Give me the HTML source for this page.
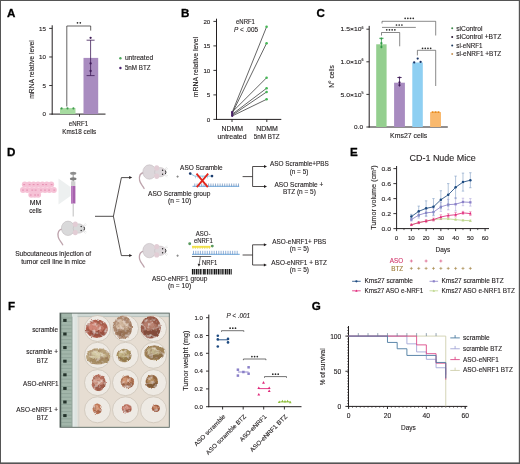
<!DOCTYPE html>
<html><head><meta charset="utf-8"><style>
html,body{margin:0;padding:0;background:#fff;}
svg{display:block;filter:blur(0.25px);}
text{font-family:"Liberation Sans", sans-serif;}
</style></head><body>
<svg width="520" height="464" viewBox="0 0 520 464" fill="#231f20">
<rect width="520" height="464" fill="#fff"/>
<text x="7.00" y="16.60" font-size="11.6" fill="#000" font-weight="bold" stroke="#000" stroke-width="0.3" >A</text>
<line x1="52.20" y1="25.30" x2="52.20" y2="114.60" stroke="#231f20" stroke-width="1.0" />
<line x1="51.70" y1="114.10" x2="105.50" y2="114.10" stroke="#231f20" stroke-width="1.0" />
<line x1="49.20" y1="114.10" x2="52.20" y2="114.10" stroke="#231f20" stroke-width="0.9" />
<text x="46.00" y="116.30" font-size="6.2" fill="#231f20" text-anchor="end" stroke="#231f20" stroke-width="0.12" >0</text>
<line x1="49.20" y1="85.53" x2="52.20" y2="85.53" stroke="#231f20" stroke-width="0.9" />
<text x="46.00" y="87.73" font-size="6.2" fill="#231f20" text-anchor="end" stroke="#231f20" stroke-width="0.12" >5</text>
<line x1="49.20" y1="56.97" x2="52.20" y2="56.97" stroke="#231f20" stroke-width="0.9" />
<text x="46.00" y="59.17" font-size="6.2" fill="#231f20" text-anchor="end" stroke="#231f20" stroke-width="0.12" >10</text>
<line x1="49.20" y1="28.40" x2="52.20" y2="28.40" stroke="#231f20" stroke-width="0.9" />
<text x="46.00" y="30.60" font-size="6.2" fill="#231f20" text-anchor="end" stroke="#231f20" stroke-width="0.12" >15</text>
<line x1="79.50" y1="114.10" x2="79.50" y2="116.70" stroke="#231f20" stroke-width="0.9" />
<text x="0" y="0" font-size="6.8" text-anchor="middle" fill="#231f20" textLength="58.5" lengthAdjust="spacingAndGlyphs" stroke="#231f20" stroke-width="0.12" transform="translate(34.30 69.50) rotate(-90)">mRNA relative level</text>
<rect x="60.00" y="108.10" width="15.50" height="6.00" fill="#a6dba0" />
<rect x="83.50" y="57.90" width="14.70" height="56.20" fill="#a98cc0" />
<circle cx="61.60" cy="108.40" r="1.05" fill="#3f9a4d" />
<circle cx="67.50" cy="108.40" r="1.05" fill="#3f9a4d" />
<circle cx="73.40" cy="108.40" r="1.05" fill="#3f9a4d" />
<line x1="90.60" y1="40.20" x2="90.60" y2="75.60" stroke="#3e1a57" stroke-width="0.8" />
<line x1="86.60" y1="40.20" x2="94.60" y2="40.20" stroke="#3e1a57" stroke-width="0.8" />
<line x1="86.60" y1="75.60" x2="94.60" y2="75.60" stroke="#3e1a57" stroke-width="0.8" />
<circle cx="90.60" cy="37.80" r="1.15" fill="#3e1a57" />
<circle cx="90.60" cy="63.40" r="1.15" fill="#3e1a57" />
<circle cx="90.60" cy="71.00" r="1.15" fill="#3e1a57" />
<path d="M66.8 106.5 V26.0 H90.7 V30.6" fill="none" stroke="#231f20" stroke-width="0.7" />
<circle cx="77.50" cy="22.80" r="0.85" fill="#2a2a2a" />
<circle cx="80.30" cy="22.80" r="0.85" fill="#2a2a2a" />
<text x="78.45" y="125.80" font-size="6.3" fill="#231f20" text-anchor="middle" textLength="19.3" lengthAdjust="spacingAndGlyphs" stroke="#231f20" stroke-width="0.12" >eNRF1</text>
<text x="79.25" y="133.50" font-size="6.3" fill="#231f20" text-anchor="middle" textLength="33.9" lengthAdjust="spacingAndGlyphs" stroke="#231f20" stroke-width="0.12" >Kms18 cells</text>
<circle cx="120.40" cy="58.20" r="1.20" fill="#4aa85a" />
<text x="124.90" y="59.70" font-size="6.3" fill="#231f20" textLength="28.2" lengthAdjust="spacingAndGlyphs" stroke="#231f20" stroke-width="0.12" >untreated</text>
<circle cx="120.40" cy="68.00" r="1.20" fill="#4a2070" />
<text x="124.90" y="69.70" font-size="6.3" fill="#231f20" textLength="25.7" lengthAdjust="spacingAndGlyphs" stroke="#231f20" stroke-width="0.12" >5nM BTZ</text>
<text x="181.00" y="16.70" font-size="11.6" fill="#000" font-weight="bold" stroke="#000" stroke-width="0.3" >B</text>
<line x1="216.50" y1="18.70" x2="216.50" y2="119.90" stroke="#231f20" stroke-width="1.0" />
<line x1="216.00" y1="119.40" x2="281.30" y2="119.40" stroke="#231f20" stroke-width="1.0" />
<line x1="213.40" y1="119.40" x2="216.50" y2="119.40" stroke="#231f20" stroke-width="0.9" />
<text x="210.30" y="121.60" font-size="6.2" fill="#231f20" text-anchor="end" stroke="#231f20" stroke-width="0.12" >0</text>
<line x1="213.40" y1="94.90" x2="216.50" y2="94.90" stroke="#231f20" stroke-width="0.9" />
<text x="210.30" y="97.10" font-size="6.2" fill="#231f20" text-anchor="end" stroke="#231f20" stroke-width="0.12" >5</text>
<line x1="213.40" y1="70.40" x2="216.50" y2="70.40" stroke="#231f20" stroke-width="0.9" />
<text x="210.30" y="72.60" font-size="6.2" fill="#231f20" text-anchor="end" stroke="#231f20" stroke-width="0.12" >10</text>
<line x1="213.40" y1="45.90" x2="216.50" y2="45.90" stroke="#231f20" stroke-width="0.9" />
<text x="210.30" y="48.10" font-size="6.2" fill="#231f20" text-anchor="end" stroke="#231f20" stroke-width="0.12" >15</text>
<line x1="213.40" y1="21.40" x2="216.50" y2="21.40" stroke="#231f20" stroke-width="0.9" />
<text x="210.30" y="23.60" font-size="6.2" fill="#231f20" text-anchor="end" stroke="#231f20" stroke-width="0.12" >20</text>
<line x1="232.00" y1="119.40" x2="232.00" y2="122.00" stroke="#231f20" stroke-width="0.9" />
<line x1="266.80" y1="119.40" x2="266.80" y2="122.00" stroke="#231f20" stroke-width="0.9" />
<text x="0" y="0" font-size="6.8" text-anchor="middle" fill="#231f20" textLength="60.3" lengthAdjust="spacingAndGlyphs" stroke="#231f20" stroke-width="0.12" transform="translate(197.50 67.00) rotate(-90)">mRNA relative level</text>
<line x1="232.20" y1="112.30" x2="266.60" y2="26.79" stroke="#333" stroke-width="0.75" />
<line x1="232.20" y1="113.28" x2="266.60" y2="43.20" stroke="#333" stroke-width="0.75" />
<line x1="232.20" y1="112.05" x2="266.60" y2="77.75" stroke="#333" stroke-width="0.75" />
<line x1="232.20" y1="114.26" x2="266.60" y2="88.28" stroke="#333" stroke-width="0.75" />
<line x1="232.20" y1="115.23" x2="266.60" y2="91.96" stroke="#333" stroke-width="0.75" />
<line x1="232.20" y1="115.97" x2="266.60" y2="99.31" stroke="#333" stroke-width="0.75" />
<circle cx="232.20" cy="112.30" r="1.10" fill="#4a2266" />
<circle cx="232.20" cy="113.28" r="1.10" fill="#4a2266" />
<circle cx="232.20" cy="112.05" r="1.10" fill="#4a2266" />
<circle cx="232.20" cy="114.26" r="1.10" fill="#4a2266" />
<circle cx="232.20" cy="115.23" r="1.10" fill="#4a2266" />
<circle cx="232.20" cy="115.97" r="1.10" fill="#4a2266" />
<circle cx="266.60" cy="26.79" r="1.30" fill="#46b856" />
<circle cx="266.60" cy="43.20" r="1.30" fill="#46b856" />
<circle cx="266.60" cy="77.75" r="1.30" fill="#46b856" />
<circle cx="266.60" cy="88.28" r="1.30" fill="#46b856" />
<circle cx="266.60" cy="91.96" r="1.30" fill="#46b856" />
<circle cx="266.60" cy="99.31" r="1.30" fill="#46b856" />
<text x="245.50" y="24.10" font-size="6.3" fill="#231f20" text-anchor="middle" textLength="18.9" lengthAdjust="spacingAndGlyphs" stroke="#231f20" stroke-width="0.12" >eNRF1</text>
<text x="246" y="31.5" font-size="6.3" fill="#231f20" stroke="#231f20" stroke-width="0.12" text-anchor="middle" textLength="24" lengthAdjust="spacingAndGlyphs"><tspan font-style="italic">P</tspan> &lt; .005</text>
<text x="232.30" y="131.30" font-size="6.3" fill="#231f20" text-anchor="middle" textLength="21.6" lengthAdjust="spacingAndGlyphs" stroke="#231f20" stroke-width="0.12" >NDMM</text>
<text x="232.00" y="138.80" font-size="6.3" fill="#231f20" text-anchor="middle" textLength="28.9" lengthAdjust="spacingAndGlyphs" stroke="#231f20" stroke-width="0.12" >untreated</text>
<text x="267.00" y="131.30" font-size="6.3" fill="#231f20" text-anchor="middle" textLength="21.7" lengthAdjust="spacingAndGlyphs" stroke="#231f20" stroke-width="0.12" >NDMM</text>
<text x="266.70" y="138.80" font-size="6.3" fill="#231f20" text-anchor="middle" textLength="25.9" lengthAdjust="spacingAndGlyphs" stroke="#231f20" stroke-width="0.12" >5nM BTZ</text>
<text x="316.40" y="16.80" font-size="11.6" fill="#000" font-weight="bold" stroke="#000" stroke-width="0.3" >C</text>
<line x1="369.20" y1="25.90" x2="369.20" y2="127.50" stroke="#231f20" stroke-width="1.0" />
<line x1="368.70" y1="127.00" x2="447.80" y2="127.00" stroke="#231f20" stroke-width="1.0" />
<line x1="366.40" y1="127.00" x2="369.20" y2="127.00" stroke="#231f20" stroke-width="0.9" />
<line x1="366.40" y1="94.40" x2="369.20" y2="94.40" stroke="#231f20" stroke-width="0.9" />
<line x1="366.40" y1="61.80" x2="369.20" y2="61.80" stroke="#231f20" stroke-width="0.9" />
<line x1="366.40" y1="29.20" x2="369.20" y2="29.20" stroke="#231f20" stroke-width="0.9" />
<text x="340.60" y="96.50" font-size="6.2" fill="#231f20" textLength="20.9" lengthAdjust="spacingAndGlyphs" stroke="#231f20" stroke-width="0.12" >5.0×10</text>
<text x="361.60" y="93.80" font-size="3.6" fill="#231f20" stroke="#231f20" stroke-width="0.12" >5</text>
<text x="340.60" y="63.90" font-size="6.2" fill="#231f20" textLength="20.9" lengthAdjust="spacingAndGlyphs" stroke="#231f20" stroke-width="0.12" >1.0×10</text>
<text x="361.60" y="61.20" font-size="3.6" fill="#231f20" stroke="#231f20" stroke-width="0.12" >6</text>
<text x="340.60" y="31.30" font-size="6.2" fill="#231f20" textLength="20.9" lengthAdjust="spacingAndGlyphs" stroke="#231f20" stroke-width="0.12" >1.5×10</text>
<text x="361.60" y="28.60" font-size="3.6" fill="#231f20" stroke="#231f20" stroke-width="0.12" >6</text>
<text x="363.00" y="129.10" font-size="6.2" fill="#231f20" text-anchor="end" textLength="9.0" lengthAdjust="spacingAndGlyphs" stroke="#231f20" stroke-width="0.12" >0.0</text>
<text x="0" y="0" font-size="6.3" text-anchor="middle" fill="#231f20" textLength="22.7" lengthAdjust="spacingAndGlyphs" stroke="#231f20" stroke-width="0.12" transform="translate(334.00 76.50) rotate(-90)">N° cells</text>
<rect x="376.20" y="44.30" width="10.40" height="82.70" fill="#94cf8f" />
<rect x="394.10" y="82.70" width="10.80" height="44.30" fill="#a88bc0" />
<rect x="412.30" y="62.50" width="10.50" height="64.50" fill="#8ecff2" />
<rect x="430.10" y="112.10" width="10.90" height="14.90" fill="#f9b96e" />
<line x1="381.40" y1="38.30" x2="381.40" y2="48.30" stroke="#2f9a45" stroke-width="0.8" />
<line x1="379.20" y1="38.30" x2="383.60" y2="38.30" stroke="#2f9a45" stroke-width="0.8" />
<circle cx="381.40" cy="38.60" r="1.10" fill="#2f9a45" />
<circle cx="381.40" cy="43.20" r="1.10" fill="#2f9a45" />
<circle cx="381.40" cy="47.00" r="1.10" fill="#2f9a45" />
<line x1="399.50" y1="77.50" x2="399.50" y2="86.50" stroke="#3e1a57" stroke-width="0.8" />
<line x1="397.30" y1="77.50" x2="401.70" y2="77.50" stroke="#3e1a57" stroke-width="0.8" />
<circle cx="399.50" cy="77.50" r="1.10" fill="#3e1a57" />
<circle cx="399.50" cy="82.40" r="1.10" fill="#3e1a57" />
<circle cx="399.50" cy="85.20" r="1.10" fill="#3e1a57" />
<circle cx="417.70" cy="58.60" r="1.15" fill="#1b3566" />
<circle cx="414.20" cy="62.40" r="1.15" fill="#1b3566" />
<circle cx="420.60" cy="61.90" r="1.15" fill="#1b3566" />
<line x1="431.50" y1="112.10" x2="439.50" y2="112.10" stroke="#e88a1a" stroke-width="0.8" />
<circle cx="432.60" cy="112.10" r="0.85" fill="#e88a1a" />
<circle cx="435.60" cy="112.10" r="0.85" fill="#e88a1a" />
<circle cx="438.60" cy="112.10" r="0.85" fill="#e88a1a" />
<text x="408.70" y="137.50" font-size="7.0" fill="#231f20" text-anchor="middle" textLength="37.2" lengthAdjust="spacingAndGlyphs" stroke="#231f20" stroke-width="0.12" >Kms27 cells</text>
<path d="M382 23.5 V21.3 H435.7 V35.5" fill="none" stroke="#3a3a3a" stroke-width="0.6" />
<line x1="382.00" y1="27.40" x2="415.80" y2="27.40" stroke="#3a3a3a" stroke-width="0.6" />
<path d="M381.5 35.5 V32.5 H399.7 V46.3" fill="none" stroke="#3a3a3a" stroke-width="0.6" />
<path d="M417.4 55.4 V50.3 H435.7 V86" fill="none" stroke="#3a3a3a" stroke-width="0.6" />
<circle cx="405.15" cy="18.30" r="0.85" fill="#2a2a2a" />
<circle cx="407.85" cy="18.30" r="0.85" fill="#2a2a2a" />
<circle cx="410.55" cy="18.30" r="0.85" fill="#2a2a2a" />
<circle cx="413.25" cy="18.30" r="0.85" fill="#2a2a2a" />
<circle cx="396.50" cy="25.00" r="0.85" fill="#2a2a2a" />
<circle cx="399.20" cy="25.00" r="0.85" fill="#2a2a2a" />
<circle cx="401.90" cy="25.00" r="0.85" fill="#2a2a2a" />
<circle cx="386.75" cy="29.80" r="0.85" fill="#2a2a2a" />
<circle cx="389.45" cy="29.80" r="0.85" fill="#2a2a2a" />
<circle cx="392.15" cy="29.80" r="0.85" fill="#2a2a2a" />
<circle cx="394.85" cy="29.80" r="0.85" fill="#2a2a2a" />
<circle cx="422.55" cy="48.30" r="0.85" fill="#2a2a2a" />
<circle cx="425.25" cy="48.30" r="0.85" fill="#2a2a2a" />
<circle cx="427.95" cy="48.30" r="0.85" fill="#2a2a2a" />
<circle cx="430.65" cy="48.30" r="0.85" fill="#2a2a2a" />
<circle cx="452.20" cy="28.30" r="1.00" fill="#3f8a4c" />
<text x="456.30" y="30.70" font-size="6.3" fill="#231f20" textLength="26.2" lengthAdjust="spacingAndGlyphs" stroke="#231f20" stroke-width="0.12" >siControl</text>
<circle cx="452.20" cy="37.00" r="1.00" fill="#2a1a33" />
<text x="456.30" y="39.30" font-size="6.3" fill="#231f20" textLength="45" lengthAdjust="spacingAndGlyphs" stroke="#231f20" stroke-width="0.12" >siControl +BTZ</text>
<circle cx="452.20" cy="45.60" r="1.00" fill="#1e3a5e" />
<text x="456.30" y="47.60" font-size="6.3" fill="#231f20" textLength="26.2" lengthAdjust="spacingAndGlyphs" stroke="#231f20" stroke-width="0.12" >si-eNRF1</text>
<circle cx="452.20" cy="54.10" r="1.00" fill="#c7955a" />
<text x="456.30" y="56.00" font-size="6.3" fill="#231f20" textLength="45" lengthAdjust="spacingAndGlyphs" stroke="#231f20" stroke-width="0.12" >si-eNRF1 +BTZ</text>
<text x="6.90" y="156.00" font-size="11.6" fill="#000" font-weight="bold" stroke="#000" stroke-width="0.3" >D</text>
<circle cx="24.80" cy="184.40" r="3.0" fill="#f6c2d6"/>
<circle cx="29.20" cy="184.40" r="3.0" fill="#f6c2d6"/>
<circle cx="33.60" cy="184.40" r="3.0" fill="#f6c2d6"/>
<circle cx="38.00" cy="184.40" r="3.0" fill="#f6c2d6"/>
<circle cx="42.40" cy="184.40" r="3.0" fill="#f6c2d6"/>
<circle cx="46.80" cy="184.40" r="3.0" fill="#f6c2d6"/>
<circle cx="51.20" cy="184.40" r="3.0" fill="#f6c2d6"/>
<circle cx="23.00" cy="189.90" r="3.0" fill="#f6c2d6"/>
<circle cx="27.40" cy="189.90" r="3.0" fill="#f6c2d6"/>
<circle cx="31.80" cy="189.90" r="3.0" fill="#f6c2d6"/>
<circle cx="36.20" cy="189.90" r="3.0" fill="#f6c2d6"/>
<circle cx="40.60" cy="189.90" r="3.0" fill="#f6c2d6"/>
<circle cx="45.00" cy="189.90" r="3.0" fill="#f6c2d6"/>
<circle cx="49.40" cy="189.90" r="3.0" fill="#f6c2d6"/>
<circle cx="53.80" cy="189.90" r="3.0" fill="#f6c2d6"/>
<circle cx="31.30" cy="194.80" r="3.0" fill="#f6c2d6"/>
<circle cx="34.70" cy="194.80" r="3.0" fill="#f6c2d6"/>
<circle cx="38.10" cy="194.80" r="3.0" fill="#f6c2d6"/>
<path d="M23.30 184.60 h1.8" stroke="#de7fa6" stroke-width="0.8"/>
<path d="M28.70 184.60 h1.8" stroke="#de7fa6" stroke-width="0.8"/>
<path d="M32.70 184.60 h1.8" stroke="#de7fa6" stroke-width="0.8"/>
<path d="M36.80 184.60 h1.8" stroke="#de7fa6" stroke-width="0.8"/>
<path d="M42.00 184.60 h1.8" stroke="#de7fa6" stroke-width="0.8"/>
<path d="M45.30 184.60 h1.8" stroke="#de7fa6" stroke-width="0.8"/>
<path d="M50.70 184.60 h1.8" stroke="#de7fa6" stroke-width="0.8"/>
<path d="M22.10 190.10 h1.8" stroke="#de7fa6" stroke-width="0.8"/>
<path d="M26.20 190.10 h1.8" stroke="#de7fa6" stroke-width="0.8"/>
<path d="M31.40 190.10 h1.8" stroke="#de7fa6" stroke-width="0.8"/>
<path d="M34.70 190.10 h1.8" stroke="#de7fa6" stroke-width="0.8"/>
<path d="M40.10 190.10 h1.8" stroke="#de7fa6" stroke-width="0.8"/>
<path d="M44.10 190.10 h1.8" stroke="#de7fa6" stroke-width="0.8"/>
<path d="M48.20 190.10 h1.8" stroke="#de7fa6" stroke-width="0.8"/>
<path d="M53.40 190.10 h1.8" stroke="#de7fa6" stroke-width="0.8"/>
<path d="M29.80 195.00 h1.8" stroke="#de7fa6" stroke-width="0.8"/>
<path d="M34.20 195.00 h1.8" stroke="#de7fa6" stroke-width="0.8"/>
<path d="M37.20 195.00 h1.8" stroke="#de7fa6" stroke-width="0.8"/>
<text x="35.50" y="204.60" font-size="6.3" fill="#231f20" text-anchor="middle" textLength="11.6" lengthAdjust="spacingAndGlyphs" stroke="#231f20" stroke-width="0.12" >MM</text>
<text x="35.50" y="212.80" font-size="6.3" fill="#231f20" text-anchor="middle" textLength="12.5" lengthAdjust="spacingAndGlyphs" stroke="#231f20" stroke-width="0.12" >cells</text>
<path d="M58.5 178.5 L70.5 187 L70.5 196 L58.5 204.5 Z" fill="#edf0f0"/>
<line x1="73.20" y1="173.50" x2="73.20" y2="186.00" stroke="#a0a0a0" stroke-width="1.1" />
<ellipse cx="73.2" cy="173.2" rx="3.1" ry="1.5" fill="#8e8e8e"/>
<ellipse cx="73.2" cy="178.8" rx="3.3" ry="1.6" fill="#7f7f7f"/>
<rect x="71.0" y="181.3" width="4.4" height="4.7" fill="#cfcfcf"/>
<rect x="71.0" y="186" width="4.4" height="17.5" fill="#a761ad"/>
<rect x="71.5" y="186" width="1.1" height="17.5" fill="#c793cd"/>
<line x1="73.20" y1="203.50" x2="73.20" y2="216.50" stroke="#b8b8b8" stroke-width="0.9" />
<g transform="translate(68,228.3)">
<path d="M-5.6 0.5 C-9.5 1.3 -10.5 4.5 -9.8 8.5 C-9 12 -6.6 13.5 -5.3 16.5" fill="none" stroke="#bea4ad" stroke-width="1.3" stroke-linecap="round"/>
<ellipse cx="0" cy="0" rx="6.6" ry="7.2" fill="#d9d9da" stroke="#b9b0b4" stroke-width="0.5"/>
<ellipse cx="10.8" cy="0.2" rx="5.6" ry="4.7" fill="#d9d9da" stroke="#b9b0b4" stroke-width="0.4"/>
<ellipse cx="7.3" cy="-4.0" rx="2.5" ry="2.7" fill="#e2cdd5"/>
<ellipse cx="7.3" cy="4.3" rx="2.5" ry="2.7" fill="#e2cdd5"/>
<circle cx="13.2" cy="-1.8" r="0.7" fill="#222"/>
<circle cx="13.2" cy="2.2" r="0.7" fill="#222"/>
<path d="M16.0 -1.5 Q17.1 0.2 16.0 2" fill="none" stroke="#222" stroke-width="0.9"/>
<path d="M15 -2.5 L17.5 -5 M15.5 -2 L18.5 -3.5 M15 2.8 L17.5 5.3 M15.5 2.3 L18.5 3.8" stroke="#bbb" stroke-width="0.35"/>
</g>
<text x="53.10" y="255.70" font-size="6.3" fill="#231f20" text-anchor="middle" textLength="75.8" lengthAdjust="spacingAndGlyphs" stroke="#231f20" stroke-width="0.12" >Subcutaneous injection of</text>
<text x="53.50" y="263.70" font-size="6.3" fill="#231f20" text-anchor="middle" textLength="64.6" lengthAdjust="spacingAndGlyphs" stroke="#231f20" stroke-width="0.12" >tumor cell line in mice</text>
<line x1="95.00" y1="216.30" x2="113.50" y2="216.30" stroke="#231f20" stroke-width="0.8" />
<path d="M121.4 177.6 L113.4 216.3 L121.4 255.6" fill="none" stroke="#231f20" stroke-width="0.8" />
<line x1="121.40" y1="177.60" x2="129.80" y2="177.60" stroke="#231f20" stroke-width="0.8" />
<path d="M132.20 177.60 L129.20 176.10 L129.20 179.10 Z" fill="#231f20"/>
<line x1="121.40" y1="255.60" x2="129.80" y2="255.60" stroke="#231f20" stroke-width="0.8" />
<path d="M132.20 255.60 L129.20 254.10 L129.20 257.10 Z" fill="#231f20"/>
<g transform="translate(149.4,172.0)">
<path d="M-5.6 0.5 C-9.5 1.3 -10.5 4.5 -9.8 8.5 C-9 12 -6.6 13.5 -5.3 16.5" fill="none" stroke="#bea4ad" stroke-width="1.3" stroke-linecap="round"/>
<ellipse cx="0" cy="0" rx="6.6" ry="7.2" fill="#ddd7db" stroke="#b9b0b4" stroke-width="0.5"/>
<ellipse cx="10.8" cy="0.2" rx="5.6" ry="4.7" fill="#ddd7db" stroke="#b9b0b4" stroke-width="0.4"/>
<ellipse cx="7.3" cy="-4.0" rx="2.5" ry="2.7" fill="#e2cdd5"/>
<ellipse cx="7.3" cy="4.3" rx="2.5" ry="2.7" fill="#e2cdd5"/>
<circle cx="13.2" cy="-1.8" r="0.7" fill="#222"/>
<circle cx="13.2" cy="2.2" r="0.7" fill="#222"/>
<path d="M16.0 -1.5 Q17.1 0.2 16.0 2" fill="none" stroke="#222" stroke-width="0.9"/>
<path d="M15 -2.5 L17.5 -5 M15.5 -2 L18.5 -3.5 M15 2.8 L17.5 5.3 M15.5 2.3 L18.5 3.8" stroke="#bbb" stroke-width="0.35"/>
</g>
<g transform="translate(149.4,250.6)">
<path d="M-5.6 0.5 C-9.5 1.3 -10.5 4.5 -9.8 8.5 C-9 12 -6.6 13.5 -5.3 16.5" fill="none" stroke="#bea4ad" stroke-width="1.3" stroke-linecap="round"/>
<ellipse cx="0" cy="0" rx="6.6" ry="7.2" fill="#ddd7db" stroke="#b9b0b4" stroke-width="0.5"/>
<ellipse cx="10.8" cy="0.2" rx="5.6" ry="4.7" fill="#ddd7db" stroke="#b9b0b4" stroke-width="0.4"/>
<ellipse cx="7.3" cy="-4.0" rx="2.5" ry="2.7" fill="#e2cdd5"/>
<ellipse cx="7.3" cy="4.3" rx="2.5" ry="2.7" fill="#e2cdd5"/>
<circle cx="13.2" cy="-1.8" r="0.7" fill="#222"/>
<circle cx="13.2" cy="2.2" r="0.7" fill="#222"/>
<path d="M16.0 -1.5 Q17.1 0.2 16.0 2" fill="none" stroke="#222" stroke-width="0.9"/>
<path d="M15 -2.5 L17.5 -5 M15.5 -2 L18.5 -3.5 M15 2.8 L17.5 5.3 M15.5 2.3 L18.5 3.8" stroke="#bbb" stroke-width="0.35"/>
</g>
<line x1="176.30" y1="176.60" x2="178.90" y2="176.60" stroke="#555" stroke-width="0.5" />
<line x1="177.60" y1="175.30" x2="177.60" y2="177.90" stroke="#555" stroke-width="0.5" />
<line x1="176.30" y1="255.70" x2="178.90" y2="255.70" stroke="#555" stroke-width="0.5" />
<line x1="177.60" y1="254.40" x2="177.60" y2="257.00" stroke="#555" stroke-width="0.5" />
<text x="201.40" y="169.50" font-size="6.3" fill="#231f20" text-anchor="middle" textLength="42.6" lengthAdjust="spacingAndGlyphs" stroke="#231f20" stroke-width="0.12" >ASO Scramble</text>
<path d="M190.2 173.6 L194.8 176.1 H208.6 L211.8 176.1" fill="none" stroke="#72b7da" stroke-width="0.8" />
<line x1="195.50" y1="176.10" x2="195.50" y2="178.30" stroke="#72b7da" stroke-width="0.5" />
<line x1="197.90" y1="176.10" x2="197.90" y2="178.30" stroke="#72b7da" stroke-width="0.5" />
<line x1="200.30" y1="176.10" x2="200.30" y2="178.30" stroke="#72b7da" stroke-width="0.5" />
<line x1="202.70" y1="176.10" x2="202.70" y2="178.30" stroke="#72b7da" stroke-width="0.5" />
<line x1="205.10" y1="176.10" x2="205.10" y2="178.30" stroke="#72b7da" stroke-width="0.5" />
<line x1="207.50" y1="176.10" x2="207.50" y2="178.30" stroke="#72b7da" stroke-width="0.5" />
<circle cx="190.20" cy="173.60" r="1.30" fill="#1e3c6e" />
<circle cx="212.00" cy="176.10" r="1.30" fill="#1e3c6e" />
<line x1="192.50" y1="186.30" x2="239.20" y2="186.30" stroke="#5b9bd5" stroke-width="0.9" />
<line x1="194.80" y1="183.50" x2="194.80" y2="186.30" stroke="#2f5f9f" stroke-width="0.5" />
<line x1="197.10" y1="183.50" x2="197.10" y2="186.30" stroke="#2f5f9f" stroke-width="0.5" />
<line x1="199.40" y1="183.50" x2="199.40" y2="186.30" stroke="#2f5f9f" stroke-width="0.5" />
<line x1="201.70" y1="183.50" x2="201.70" y2="186.30" stroke="#2f5f9f" stroke-width="0.5" />
<line x1="204.00" y1="183.50" x2="204.00" y2="186.30" stroke="#2f5f9f" stroke-width="0.5" />
<line x1="206.30" y1="183.50" x2="206.30" y2="186.30" stroke="#2f5f9f" stroke-width="0.5" />
<line x1="208.60" y1="183.50" x2="208.60" y2="186.30" stroke="#2f5f9f" stroke-width="0.5" />
<line x1="210.90" y1="183.50" x2="210.90" y2="186.30" stroke="#2f5f9f" stroke-width="0.5" />
<line x1="213.20" y1="183.50" x2="213.20" y2="186.30" stroke="#2f5f9f" stroke-width="0.5" />
<line x1="215.50" y1="183.50" x2="215.50" y2="186.30" stroke="#2f5f9f" stroke-width="0.5" />
<line x1="217.80" y1="183.50" x2="217.80" y2="186.30" stroke="#2f5f9f" stroke-width="0.5" />
<line x1="220.10" y1="183.50" x2="220.10" y2="186.30" stroke="#2f5f9f" stroke-width="0.5" />
<line x1="222.40" y1="183.50" x2="222.40" y2="186.30" stroke="#2f5f9f" stroke-width="0.5" />
<line x1="224.70" y1="183.50" x2="224.70" y2="186.30" stroke="#2f5f9f" stroke-width="0.5" />
<line x1="227.00" y1="183.50" x2="227.00" y2="186.30" stroke="#2f5f9f" stroke-width="0.5" />
<line x1="229.30" y1="183.50" x2="229.30" y2="186.30" stroke="#2f5f9f" stroke-width="0.5" />
<line x1="231.60" y1="183.50" x2="231.60" y2="186.30" stroke="#2f5f9f" stroke-width="0.5" />
<line x1="233.90" y1="183.50" x2="233.90" y2="186.30" stroke="#2f5f9f" stroke-width="0.5" />
<line x1="236.20" y1="183.50" x2="236.20" y2="186.30" stroke="#2f5f9f" stroke-width="0.5" />
<line x1="238.50" y1="183.50" x2="238.50" y2="186.30" stroke="#2f5f9f" stroke-width="0.5" />
<path d="M196.5 173.6 L207.8 187.2 M208.2 173.6 L196.8 187.2" fill="none" stroke="#e3261c" stroke-width="1.8" />
<text x="179.20" y="195.70" font-size="6.3" fill="#231f20" text-anchor="middle" textLength="62.3" lengthAdjust="spacingAndGlyphs" stroke="#231f20" stroke-width="0.12" >ASO Scramble group</text>
<text x="179.60" y="203.40" font-size="6.3" fill="#231f20" text-anchor="middle" textLength="23.1" lengthAdjust="spacingAndGlyphs" stroke="#231f20" stroke-width="0.12" >(n = 10)</text>
<text x="203.10" y="235.70" font-size="6.3" fill="#231f20" text-anchor="middle" textLength="14.6" lengthAdjust="spacingAndGlyphs" stroke="#231f20" stroke-width="0.12" >ASO-</text>
<text x="203.30" y="243.40" font-size="6.3" fill="#231f20" text-anchor="middle" textLength="18.8" lengthAdjust="spacingAndGlyphs" stroke="#231f20" stroke-width="0.12" >eNRF1</text>
<line x1="192.00" y1="246.80" x2="210.50" y2="246.80" stroke="#f2e24a" stroke-width="1.9" />
<line x1="193.00" y1="246.60" x2="193.00" y2="249.00" stroke="#e6d43a" stroke-width="0.6" />
<line x1="195.35" y1="246.60" x2="195.35" y2="249.00" stroke="#e6d43a" stroke-width="0.6" />
<line x1="197.70" y1="246.60" x2="197.70" y2="249.00" stroke="#e6d43a" stroke-width="0.6" />
<line x1="200.05" y1="246.60" x2="200.05" y2="249.00" stroke="#e6d43a" stroke-width="0.6" />
<line x1="202.40" y1="246.60" x2="202.40" y2="249.00" stroke="#e6d43a" stroke-width="0.6" />
<line x1="204.75" y1="246.60" x2="204.75" y2="249.00" stroke="#e6d43a" stroke-width="0.6" />
<line x1="207.10" y1="246.60" x2="207.10" y2="249.00" stroke="#e6d43a" stroke-width="0.6" />
<line x1="209.45" y1="246.60" x2="209.45" y2="249.00" stroke="#e6d43a" stroke-width="0.6" />
<circle cx="189.70" cy="243.80" r="1.45" fill="#5a9a5e" />
<circle cx="212.30" cy="246.10" r="1.45" fill="#5a9a5e" />
<line x1="192.00" y1="254.30" x2="239.70" y2="254.30" stroke="#5b9bd5" stroke-width="0.9" />
<line x1="193.50" y1="250.80" x2="193.50" y2="254.30" stroke="#3a6fb5" stroke-width="0.55" />
<line x1="195.80" y1="250.80" x2="195.80" y2="254.30" stroke="#3a6fb5" stroke-width="0.55" />
<line x1="198.10" y1="250.80" x2="198.10" y2="254.30" stroke="#3a6fb5" stroke-width="0.55" />
<line x1="200.40" y1="250.80" x2="200.40" y2="254.30" stroke="#3a6fb5" stroke-width="0.55" />
<line x1="202.70" y1="250.80" x2="202.70" y2="254.30" stroke="#3a6fb5" stroke-width="0.55" />
<line x1="205.00" y1="250.80" x2="205.00" y2="254.30" stroke="#3a6fb5" stroke-width="0.55" />
<line x1="207.30" y1="250.80" x2="207.30" y2="254.30" stroke="#3a6fb5" stroke-width="0.55" />
<line x1="209.60" y1="250.80" x2="209.60" y2="254.30" stroke="#3a6fb5" stroke-width="0.55" />
<line x1="211.90" y1="250.80" x2="211.90" y2="254.30" stroke="#3a6fb5" stroke-width="0.55" />
<line x1="214.20" y1="250.80" x2="214.20" y2="254.30" stroke="#3a6fb5" stroke-width="0.55" />
<line x1="216.50" y1="250.80" x2="216.50" y2="254.30" stroke="#3a6fb5" stroke-width="0.55" />
<line x1="218.80" y1="250.80" x2="218.80" y2="254.30" stroke="#3a6fb5" stroke-width="0.55" />
<line x1="221.10" y1="250.80" x2="221.10" y2="254.30" stroke="#3a6fb5" stroke-width="0.55" />
<line x1="223.40" y1="250.80" x2="223.40" y2="254.30" stroke="#3a6fb5" stroke-width="0.55" />
<line x1="225.70" y1="250.80" x2="225.70" y2="254.30" stroke="#3a6fb5" stroke-width="0.55" />
<line x1="228.00" y1="250.80" x2="228.00" y2="254.30" stroke="#3a6fb5" stroke-width="0.55" />
<line x1="230.30" y1="250.80" x2="230.30" y2="254.30" stroke="#3a6fb5" stroke-width="0.55" />
<line x1="232.60" y1="250.80" x2="232.60" y2="254.30" stroke="#3a6fb5" stroke-width="0.55" />
<line x1="234.90" y1="250.80" x2="234.90" y2="254.30" stroke="#3a6fb5" stroke-width="0.55" />
<line x1="237.20" y1="250.80" x2="237.20" y2="254.30" stroke="#3a6fb5" stroke-width="0.55" />
<line x1="191.90" y1="256.50" x2="211.20" y2="256.50" stroke="#231f20" stroke-width="0.7" />
<path d="M200.4 256.5 L199.1 264.5" fill="none" stroke="#231f20" stroke-width="0.6" />
<path d="M198.8 266.6 L197.6 263.8 L200.5 264.3 Z" fill="#231f20"/>
<text x="209.60" y="265.40" font-size="6.3" fill="#231f20" text-anchor="middle" textLength="15.4" lengthAdjust="spacingAndGlyphs" stroke="#231f20" stroke-width="0.12" >NRF1</text>
<g fill="#111">
<rect x="191.90" y="269.0" width="1.6" height="5.5"/>
<rect x="194.10" y="269.0" width="0.9" height="5.5"/>
<rect x="195.70" y="269.0" width="1.8" height="5.5"/>
<rect x="198.00" y="269.0" width="0.8" height="5.5"/>
<rect x="199.60" y="269.0" width="1.3" height="5.5"/>
<rect x="201.50" y="269.0" width="0.7" height="5.5"/>
<rect x="203.10" y="269.0" width="1.7" height="5.5"/>
<rect x="205.30" y="269.0" width="0.8" height="5.5"/>
<rect x="206.90" y="269.0" width="1.5" height="5.5"/>
<rect x="209.00" y="269.0" width="0.7" height="5.5"/>
<rect x="210.60" y="269.0" width="1.2" height="5.5"/>
<rect x="212.50" y="269.0" width="0.8" height="5.5"/>
<rect x="213.90" y="269.0" width="1.6" height="5.5"/>
<rect x="216.00" y="269.0" width="0.9" height="5.5"/>
<rect x="217.70" y="269.0" width="1.7" height="5.5"/>
<rect x="219.90" y="269.0" width="0.7" height="5.5"/>
<rect x="221.50" y="269.0" width="1.3" height="5.5"/>
<rect x="223.40" y="269.0" width="0.8" height="5.5"/>
<rect x="224.90" y="269.0" width="1.5" height="5.5"/>
<rect x="226.90" y="269.0" width="0.9" height="5.5"/>
<rect x="228.60" y="269.0" width="1.7" height="5.5"/>
<rect x="230.90" y="269.0" width="0.8" height="5.5"/>
</g>
<text x="179.60" y="281.10" font-size="6.3" fill="#231f20" text-anchor="middle" textLength="55.4" lengthAdjust="spacingAndGlyphs" stroke="#231f20" stroke-width="0.12" >ASO-eNRF1 group</text>
<text x="179.60" y="288.00" font-size="6.3" fill="#231f20" text-anchor="middle" textLength="23.1" lengthAdjust="spacingAndGlyphs" stroke="#231f20" stroke-width="0.12" >(n = 10)</text>
<line x1="242.60" y1="176.60" x2="252.60" y2="176.60" stroke="#231f20" stroke-width="0.8" />
<line x1="252.60" y1="166.50" x2="252.60" y2="186.50" stroke="#231f20" stroke-width="0.8" />
<line x1="252.60" y1="166.50" x2="264.60" y2="166.50" stroke="#231f20" stroke-width="0.8" />
<path d="M267.00 166.50 L264.00 165.00 L264.00 168.00 Z" fill="#231f20"/>
<line x1="252.60" y1="186.50" x2="264.60" y2="186.50" stroke="#231f20" stroke-width="0.8" />
<path d="M267.00 186.50 L264.00 185.00 L264.00 188.00 Z" fill="#231f20"/>
<text x="269.90" y="166.30" font-size="6.6" fill="#231f20" textLength="59.0" lengthAdjust="spacingAndGlyphs" stroke="#231f20" stroke-width="0.12" >ASO Scramble+PBS</text>
<text x="299.00" y="173.50" font-size="6.6" fill="#231f20" text-anchor="middle" textLength="18.7" lengthAdjust="spacingAndGlyphs" stroke="#231f20" stroke-width="0.12" >(n = 5)</text>
<text x="298.90" y="186.70" font-size="6.6" fill="#231f20" text-anchor="middle" textLength="48.8" lengthAdjust="spacingAndGlyphs" stroke="#231f20" stroke-width="0.12" >ASO Scramble +</text>
<text x="299.35" y="194.00" font-size="6.6" fill="#231f20" text-anchor="middle" textLength="32.9" lengthAdjust="spacingAndGlyphs" stroke="#231f20" stroke-width="0.12" >BTZ (n = 5)</text>
<line x1="242.60" y1="255.00" x2="252.60" y2="255.00" stroke="#231f20" stroke-width="0.8" />
<line x1="252.60" y1="244.80" x2="252.60" y2="265.00" stroke="#231f20" stroke-width="0.8" />
<line x1="252.60" y1="244.80" x2="264.50" y2="244.80" stroke="#231f20" stroke-width="0.8" />
<path d="M266.90 244.80 L263.90 243.30 L263.90 246.30 Z" fill="#231f20"/>
<line x1="252.60" y1="265.00" x2="264.50" y2="265.00" stroke="#231f20" stroke-width="0.8" />
<path d="M266.90 265.00 L263.90 263.50 L263.90 266.50 Z" fill="#231f20"/>
<text x="299.30" y="244.00" font-size="6.6" fill="#231f20" text-anchor="middle" textLength="54.0" lengthAdjust="spacingAndGlyphs" stroke="#231f20" stroke-width="0.12" >ASO-eNRF1+ PBS</text>
<text x="299.40" y="251.30" font-size="6.6" fill="#231f20" text-anchor="middle" textLength="19.2" lengthAdjust="spacingAndGlyphs" stroke="#231f20" stroke-width="0.12" >(n = 5)</text>
<text x="299.10" y="265.00" font-size="6.6" fill="#231f20" text-anchor="middle" textLength="55.6" lengthAdjust="spacingAndGlyphs" stroke="#231f20" stroke-width="0.12" >ASO-eNRF1 + BTZ</text>
<text x="299.40" y="272.30" font-size="6.6" fill="#231f20" text-anchor="middle" textLength="19.2" lengthAdjust="spacingAndGlyphs" stroke="#231f20" stroke-width="0.12" >(n = 5)</text>
<text x="350.00" y="156.10" font-size="11.6" fill="#000" font-weight="bold" stroke="#000" stroke-width="0.3" >E</text>
<text x="442.60" y="161.10" font-size="9" fill="#231f20" text-anchor="middle" textLength="66.2" lengthAdjust="spacingAndGlyphs" stroke="#231f20" stroke-width="0.12" >CD-1 Nude Mice</text>
<line x1="396.60" y1="166.00" x2="396.60" y2="229.10" stroke="#231f20" stroke-width="1.0" />
<line x1="396.10" y1="228.60" x2="489.00" y2="228.60" stroke="#231f20" stroke-width="1.0" />
<line x1="393.40" y1="228.60" x2="396.60" y2="228.60" stroke="#231f20" stroke-width="0.9" />
<text x="391.00" y="230.80" font-size="6.2" fill="#231f20" text-anchor="end" textLength="9.5" lengthAdjust="spacingAndGlyphs" stroke="#231f20" stroke-width="0.12" >0.0</text>
<line x1="393.40" y1="213.60" x2="396.60" y2="213.60" stroke="#231f20" stroke-width="0.9" />
<text x="391.00" y="215.80" font-size="6.2" fill="#231f20" text-anchor="end" textLength="9.5" lengthAdjust="spacingAndGlyphs" stroke="#231f20" stroke-width="0.12" >0.2</text>
<line x1="393.40" y1="198.60" x2="396.60" y2="198.60" stroke="#231f20" stroke-width="0.9" />
<text x="391.00" y="200.80" font-size="6.2" fill="#231f20" text-anchor="end" textLength="9.5" lengthAdjust="spacingAndGlyphs" stroke="#231f20" stroke-width="0.12" >0.4</text>
<line x1="393.40" y1="183.60" x2="396.60" y2="183.60" stroke="#231f20" stroke-width="0.9" />
<text x="391.00" y="185.80" font-size="6.2" fill="#231f20" text-anchor="end" textLength="9.5" lengthAdjust="spacingAndGlyphs" stroke="#231f20" stroke-width="0.12" >0.6</text>
<line x1="393.40" y1="168.60" x2="396.60" y2="168.60" stroke="#231f20" stroke-width="0.9" />
<text x="391.00" y="170.80" font-size="6.2" fill="#231f20" text-anchor="end" textLength="9.5" lengthAdjust="spacingAndGlyphs" stroke="#231f20" stroke-width="0.12" >0.8</text>
<line x1="396.60" y1="228.60" x2="396.60" y2="231.10" stroke="#231f20" stroke-width="0.9" />
<text x="396.60" y="239.70" font-size="6.2" fill="#231f20" text-anchor="middle" stroke="#231f20" stroke-width="0.12" >0</text>
<line x1="411.35" y1="228.60" x2="411.35" y2="231.10" stroke="#231f20" stroke-width="0.9" />
<text x="411.35" y="239.70" font-size="6.2" fill="#231f20" text-anchor="middle" stroke="#231f20" stroke-width="0.12" >10</text>
<line x1="426.10" y1="228.60" x2="426.10" y2="231.10" stroke="#231f20" stroke-width="0.9" />
<text x="426.10" y="239.70" font-size="6.2" fill="#231f20" text-anchor="middle" stroke="#231f20" stroke-width="0.12" >20</text>
<line x1="440.85" y1="228.60" x2="440.85" y2="231.10" stroke="#231f20" stroke-width="0.9" />
<text x="440.85" y="239.70" font-size="6.2" fill="#231f20" text-anchor="middle" stroke="#231f20" stroke-width="0.12" >30</text>
<line x1="455.60" y1="228.60" x2="455.60" y2="231.10" stroke="#231f20" stroke-width="0.9" />
<text x="455.60" y="239.70" font-size="6.2" fill="#231f20" text-anchor="middle" stroke="#231f20" stroke-width="0.12" >40</text>
<line x1="470.35" y1="228.60" x2="470.35" y2="231.10" stroke="#231f20" stroke-width="0.9" />
<text x="470.35" y="239.70" font-size="6.2" fill="#231f20" text-anchor="middle" stroke="#231f20" stroke-width="0.12" >50</text>
<line x1="485.10" y1="228.60" x2="485.10" y2="231.10" stroke="#231f20" stroke-width="0.9" />
<text x="485.10" y="239.70" font-size="6.2" fill="#231f20" text-anchor="middle" stroke="#231f20" stroke-width="0.12" >60</text>
<line x1="403.98" y1="228.60" x2="403.98" y2="230.10" stroke="#231f20" stroke-width="0.7" />
<line x1="418.73" y1="228.60" x2="418.73" y2="230.10" stroke="#231f20" stroke-width="0.7" />
<line x1="433.48" y1="228.60" x2="433.48" y2="230.10" stroke="#231f20" stroke-width="0.7" />
<line x1="448.23" y1="228.60" x2="448.23" y2="230.10" stroke="#231f20" stroke-width="0.7" />
<line x1="462.98" y1="228.60" x2="462.98" y2="230.10" stroke="#231f20" stroke-width="0.7" />
<line x1="477.73" y1="228.60" x2="477.73" y2="230.10" stroke="#231f20" stroke-width="0.7" />
<text x="0" y="0" font-size="7.2" fill="#231f20" stroke="#231f20" stroke-width="0.12" text-anchor="middle" textLength="64.6" lengthAdjust="spacingAndGlyphs" transform="translate(376.2 197.5) rotate(-90)">Tumor volume (cm<tspan font-size="4" dy="-2.6">3</tspan><tspan dy="2.6">)</tspan></text>
<polyline points="411.35,224.85 418.73,222.60 426.10,221.10 433.48,219.60 440.85,218.85 448.23,218.85 455.60,219.60 462.98,220.35 470.35,220.72" fill="none" stroke="#bcd58a" stroke-width="0.85"/>
<line x1="411.35" y1="224.10" x2="411.35" y2="225.60" stroke="#cfe0a8" stroke-width="0.6" />
<line x1="410.15" y1="224.10" x2="412.55" y2="224.10" stroke="#cfe0a8" stroke-width="0.6" />
<line x1="410.15" y1="225.60" x2="412.55" y2="225.60" stroke="#cfe0a8" stroke-width="0.6" />
<line x1="418.73" y1="221.85" x2="418.73" y2="223.35" stroke="#cfe0a8" stroke-width="0.6" />
<line x1="417.53" y1="221.85" x2="419.93" y2="221.85" stroke="#cfe0a8" stroke-width="0.6" />
<line x1="417.53" y1="223.35" x2="419.93" y2="223.35" stroke="#cfe0a8" stroke-width="0.6" />
<line x1="426.10" y1="220.35" x2="426.10" y2="221.85" stroke="#cfe0a8" stroke-width="0.6" />
<line x1="424.90" y1="220.35" x2="427.30" y2="220.35" stroke="#cfe0a8" stroke-width="0.6" />
<line x1="424.90" y1="221.85" x2="427.30" y2="221.85" stroke="#cfe0a8" stroke-width="0.6" />
<line x1="433.48" y1="218.85" x2="433.48" y2="220.35" stroke="#cfe0a8" stroke-width="0.6" />
<line x1="432.28" y1="218.85" x2="434.68" y2="218.85" stroke="#cfe0a8" stroke-width="0.6" />
<line x1="432.28" y1="220.35" x2="434.68" y2="220.35" stroke="#cfe0a8" stroke-width="0.6" />
<line x1="440.85" y1="218.10" x2="440.85" y2="219.60" stroke="#cfe0a8" stroke-width="0.6" />
<line x1="439.65" y1="218.10" x2="442.05" y2="218.10" stroke="#cfe0a8" stroke-width="0.6" />
<line x1="439.65" y1="219.60" x2="442.05" y2="219.60" stroke="#cfe0a8" stroke-width="0.6" />
<line x1="448.23" y1="218.10" x2="448.23" y2="219.60" stroke="#cfe0a8" stroke-width="0.6" />
<line x1="447.03" y1="218.10" x2="449.43" y2="218.10" stroke="#cfe0a8" stroke-width="0.6" />
<line x1="447.03" y1="219.60" x2="449.43" y2="219.60" stroke="#cfe0a8" stroke-width="0.6" />
<line x1="455.60" y1="218.85" x2="455.60" y2="220.35" stroke="#cfe0a8" stroke-width="0.6" />
<line x1="454.40" y1="218.85" x2="456.80" y2="218.85" stroke="#cfe0a8" stroke-width="0.6" />
<line x1="454.40" y1="220.35" x2="456.80" y2="220.35" stroke="#cfe0a8" stroke-width="0.6" />
<line x1="462.98" y1="219.60" x2="462.98" y2="221.10" stroke="#cfe0a8" stroke-width="0.6" />
<line x1="461.78" y1="219.60" x2="464.18" y2="219.60" stroke="#cfe0a8" stroke-width="0.6" />
<line x1="461.78" y1="221.10" x2="464.18" y2="221.10" stroke="#cfe0a8" stroke-width="0.6" />
<line x1="470.35" y1="219.97" x2="470.35" y2="221.47" stroke="#cfe0a8" stroke-width="0.6" />
<line x1="469.15" y1="219.97" x2="471.55" y2="219.97" stroke="#cfe0a8" stroke-width="0.6" />
<line x1="469.15" y1="221.47" x2="471.55" y2="221.47" stroke="#cfe0a8" stroke-width="0.6" />
<path d="M411.35 223.36 L412.70 225.79 L410.00 225.79 Z" fill="#bcd58a"/>
<path d="M418.73 221.11 L420.08 223.54 L417.38 223.54 Z" fill="#bcd58a"/>
<path d="M426.10 219.61 L427.45 222.04 L424.75 222.04 Z" fill="#bcd58a"/>
<path d="M433.48 218.11 L434.83 220.54 L432.12 220.54 Z" fill="#bcd58a"/>
<path d="M440.85 217.36 L442.20 219.79 L439.50 219.79 Z" fill="#bcd58a"/>
<path d="M448.23 217.36 L449.58 219.79 L446.88 219.79 Z" fill="#bcd58a"/>
<path d="M455.60 218.11 L456.95 220.54 L454.25 220.54 Z" fill="#bcd58a"/>
<path d="M462.98 218.86 L464.33 221.29 L461.62 221.29 Z" fill="#bcd58a"/>
<path d="M470.35 219.24 L471.70 221.67 L469.00 221.67 Z" fill="#bcd58a"/>
<polyline points="411.35,224.85 418.73,222.60 426.10,221.10 433.48,219.60 440.85,216.97 448.23,215.47 455.60,214.72 462.98,212.85 470.35,213.60" fill="none" stroke="#e0287a" stroke-width="0.85"/>
<line x1="411.35" y1="224.10" x2="411.35" y2="225.60" stroke="#ea6fa4" stroke-width="0.6" />
<line x1="410.15" y1="224.10" x2="412.55" y2="224.10" stroke="#ea6fa4" stroke-width="0.6" />
<line x1="410.15" y1="225.60" x2="412.55" y2="225.60" stroke="#ea6fa4" stroke-width="0.6" />
<line x1="418.73" y1="221.47" x2="418.73" y2="223.72" stroke="#ea6fa4" stroke-width="0.6" />
<line x1="417.53" y1="221.47" x2="419.93" y2="221.47" stroke="#ea6fa4" stroke-width="0.6" />
<line x1="417.53" y1="223.72" x2="419.93" y2="223.72" stroke="#ea6fa4" stroke-width="0.6" />
<line x1="426.10" y1="219.60" x2="426.10" y2="222.60" stroke="#ea6fa4" stroke-width="0.6" />
<line x1="424.90" y1="219.60" x2="427.30" y2="219.60" stroke="#ea6fa4" stroke-width="0.6" />
<line x1="424.90" y1="222.60" x2="427.30" y2="222.60" stroke="#ea6fa4" stroke-width="0.6" />
<line x1="433.48" y1="218.10" x2="433.48" y2="221.10" stroke="#ea6fa4" stroke-width="0.6" />
<line x1="432.28" y1="218.10" x2="434.68" y2="218.10" stroke="#ea6fa4" stroke-width="0.6" />
<line x1="432.28" y1="221.10" x2="434.68" y2="221.10" stroke="#ea6fa4" stroke-width="0.6" />
<line x1="440.85" y1="214.72" x2="440.85" y2="219.22" stroke="#ea6fa4" stroke-width="0.6" />
<line x1="439.65" y1="214.72" x2="442.05" y2="214.72" stroke="#ea6fa4" stroke-width="0.6" />
<line x1="439.65" y1="219.22" x2="442.05" y2="219.22" stroke="#ea6fa4" stroke-width="0.6" />
<line x1="448.23" y1="213.60" x2="448.23" y2="217.35" stroke="#ea6fa4" stroke-width="0.6" />
<line x1="447.03" y1="213.60" x2="449.43" y2="213.60" stroke="#ea6fa4" stroke-width="0.6" />
<line x1="447.03" y1="217.35" x2="449.43" y2="217.35" stroke="#ea6fa4" stroke-width="0.6" />
<line x1="455.60" y1="212.47" x2="455.60" y2="216.97" stroke="#ea6fa4" stroke-width="0.6" />
<line x1="454.40" y1="212.47" x2="456.80" y2="212.47" stroke="#ea6fa4" stroke-width="0.6" />
<line x1="454.40" y1="216.97" x2="456.80" y2="216.97" stroke="#ea6fa4" stroke-width="0.6" />
<line x1="462.98" y1="211.35" x2="462.98" y2="214.35" stroke="#ea6fa4" stroke-width="0.6" />
<line x1="461.78" y1="211.35" x2="464.18" y2="211.35" stroke="#ea6fa4" stroke-width="0.6" />
<line x1="461.78" y1="214.35" x2="464.18" y2="214.35" stroke="#ea6fa4" stroke-width="0.6" />
<line x1="470.35" y1="211.72" x2="470.35" y2="215.47" stroke="#ea6fa4" stroke-width="0.6" />
<line x1="469.15" y1="211.72" x2="471.55" y2="211.72" stroke="#ea6fa4" stroke-width="0.6" />
<line x1="469.15" y1="215.47" x2="471.55" y2="215.47" stroke="#ea6fa4" stroke-width="0.6" />
<path d="M411.35 223.36 L412.70 225.79 L410.00 225.79 Z" fill="#e0287a"/>
<path d="M418.73 221.11 L420.08 223.54 L417.38 223.54 Z" fill="#e0287a"/>
<path d="M426.10 219.61 L427.45 222.04 L424.75 222.04 Z" fill="#e0287a"/>
<path d="M433.48 218.11 L434.83 220.54 L432.12 220.54 Z" fill="#e0287a"/>
<path d="M440.85 215.49 L442.20 217.92 L439.50 217.92 Z" fill="#e0287a"/>
<path d="M448.23 213.99 L449.58 216.42 L446.88 216.42 Z" fill="#e0287a"/>
<path d="M455.60 213.24 L456.95 215.67 L454.25 215.67 Z" fill="#e0287a"/>
<path d="M462.98 211.36 L464.33 213.79 L461.62 213.79 Z" fill="#e0287a"/>
<path d="M470.35 212.11 L471.70 214.54 L469.00 214.54 Z" fill="#e0287a"/>
<polyline points="411.35,219.60 418.73,215.10 426.10,212.85 433.48,212.10 440.85,206.85 448.23,204.60 455.60,204.22 462.98,201.97 470.35,202.35" fill="none" stroke="#8a80c8" stroke-width="0.85"/>
<line x1="411.35" y1="218.10" x2="411.35" y2="221.10" stroke="#aea6dc" stroke-width="0.6" />
<line x1="410.15" y1="218.10" x2="412.55" y2="218.10" stroke="#aea6dc" stroke-width="0.6" />
<line x1="410.15" y1="221.10" x2="412.55" y2="221.10" stroke="#aea6dc" stroke-width="0.6" />
<line x1="418.73" y1="212.10" x2="418.73" y2="218.10" stroke="#aea6dc" stroke-width="0.6" />
<line x1="417.53" y1="212.10" x2="419.93" y2="212.10" stroke="#aea6dc" stroke-width="0.6" />
<line x1="417.53" y1="218.10" x2="419.93" y2="218.10" stroke="#aea6dc" stroke-width="0.6" />
<line x1="426.10" y1="209.10" x2="426.10" y2="216.60" stroke="#aea6dc" stroke-width="0.6" />
<line x1="424.90" y1="209.10" x2="427.30" y2="209.10" stroke="#aea6dc" stroke-width="0.6" />
<line x1="424.90" y1="216.60" x2="427.30" y2="216.60" stroke="#aea6dc" stroke-width="0.6" />
<line x1="433.48" y1="208.35" x2="433.48" y2="215.85" stroke="#aea6dc" stroke-width="0.6" />
<line x1="432.28" y1="208.35" x2="434.68" y2="208.35" stroke="#aea6dc" stroke-width="0.6" />
<line x1="432.28" y1="215.85" x2="434.68" y2="215.85" stroke="#aea6dc" stroke-width="0.6" />
<line x1="440.85" y1="202.35" x2="440.85" y2="211.35" stroke="#aea6dc" stroke-width="0.6" />
<line x1="439.65" y1="202.35" x2="442.05" y2="202.35" stroke="#aea6dc" stroke-width="0.6" />
<line x1="439.65" y1="211.35" x2="442.05" y2="211.35" stroke="#aea6dc" stroke-width="0.6" />
<line x1="448.23" y1="199.35" x2="448.23" y2="209.85" stroke="#aea6dc" stroke-width="0.6" />
<line x1="447.03" y1="199.35" x2="449.43" y2="199.35" stroke="#aea6dc" stroke-width="0.6" />
<line x1="447.03" y1="209.85" x2="449.43" y2="209.85" stroke="#aea6dc" stroke-width="0.6" />
<line x1="455.60" y1="197.47" x2="455.60" y2="210.97" stroke="#aea6dc" stroke-width="0.6" />
<line x1="454.40" y1="197.47" x2="456.80" y2="197.47" stroke="#aea6dc" stroke-width="0.6" />
<line x1="454.40" y1="210.97" x2="456.80" y2="210.97" stroke="#aea6dc" stroke-width="0.6" />
<line x1="462.98" y1="198.22" x2="462.98" y2="205.72" stroke="#aea6dc" stroke-width="0.6" />
<line x1="461.78" y1="198.22" x2="464.18" y2="198.22" stroke="#aea6dc" stroke-width="0.6" />
<line x1="461.78" y1="205.72" x2="464.18" y2="205.72" stroke="#aea6dc" stroke-width="0.6" />
<line x1="470.35" y1="198.60" x2="470.35" y2="206.10" stroke="#aea6dc" stroke-width="0.6" />
<line x1="469.15" y1="198.60" x2="471.55" y2="198.60" stroke="#aea6dc" stroke-width="0.6" />
<line x1="469.15" y1="206.10" x2="471.55" y2="206.10" stroke="#aea6dc" stroke-width="0.6" />
<rect x="410.20" y="218.45" width="2.30" height="2.30" fill="#8a80c8" />
<rect x="417.58" y="213.95" width="2.30" height="2.30" fill="#8a80c8" />
<rect x="424.95" y="211.70" width="2.30" height="2.30" fill="#8a80c8" />
<rect x="432.33" y="210.95" width="2.30" height="2.30" fill="#8a80c8" />
<rect x="439.70" y="205.70" width="2.30" height="2.30" fill="#8a80c8" />
<rect x="447.08" y="203.45" width="2.30" height="2.30" fill="#8a80c8" />
<rect x="454.45" y="203.07" width="2.30" height="2.30" fill="#8a80c8" />
<rect x="461.83" y="200.82" width="2.30" height="2.30" fill="#8a80c8" />
<rect x="469.20" y="201.20" width="2.30" height="2.30" fill="#8a80c8" />
<polyline points="411.35,216.60 418.73,211.35 426.10,208.35 433.48,206.85 440.85,199.72 448.23,194.85 455.60,187.35 462.98,182.10 470.35,180.22" fill="none" stroke="#1d4a80" stroke-width="0.85"/>
<line x1="411.35" y1="214.35" x2="411.35" y2="218.85" stroke="#7d9cc2" stroke-width="0.6" />
<line x1="410.15" y1="214.35" x2="412.55" y2="214.35" stroke="#7d9cc2" stroke-width="0.6" />
<line x1="410.15" y1="218.85" x2="412.55" y2="218.85" stroke="#7d9cc2" stroke-width="0.6" />
<line x1="418.73" y1="206.10" x2="418.73" y2="216.60" stroke="#7d9cc2" stroke-width="0.6" />
<line x1="417.53" y1="206.10" x2="419.93" y2="206.10" stroke="#7d9cc2" stroke-width="0.6" />
<line x1="417.53" y1="216.60" x2="419.93" y2="216.60" stroke="#7d9cc2" stroke-width="0.6" />
<line x1="426.10" y1="200.85" x2="426.10" y2="215.85" stroke="#7d9cc2" stroke-width="0.6" />
<line x1="424.90" y1="200.85" x2="427.30" y2="200.85" stroke="#7d9cc2" stroke-width="0.6" />
<line x1="424.90" y1="215.85" x2="427.30" y2="215.85" stroke="#7d9cc2" stroke-width="0.6" />
<line x1="433.48" y1="198.60" x2="433.48" y2="215.10" stroke="#7d9cc2" stroke-width="0.6" />
<line x1="432.28" y1="198.60" x2="434.68" y2="198.60" stroke="#7d9cc2" stroke-width="0.6" />
<line x1="432.28" y1="215.10" x2="434.68" y2="215.10" stroke="#7d9cc2" stroke-width="0.6" />
<line x1="440.85" y1="190.72" x2="440.85" y2="208.72" stroke="#7d9cc2" stroke-width="0.6" />
<line x1="439.65" y1="190.72" x2="442.05" y2="190.72" stroke="#7d9cc2" stroke-width="0.6" />
<line x1="439.65" y1="208.72" x2="442.05" y2="208.72" stroke="#7d9cc2" stroke-width="0.6" />
<line x1="448.23" y1="183.60" x2="448.23" y2="206.10" stroke="#7d9cc2" stroke-width="0.6" />
<line x1="447.03" y1="183.60" x2="449.43" y2="183.60" stroke="#7d9cc2" stroke-width="0.6" />
<line x1="447.03" y1="206.10" x2="449.43" y2="206.10" stroke="#7d9cc2" stroke-width="0.6" />
<line x1="455.60" y1="176.10" x2="455.60" y2="198.60" stroke="#7d9cc2" stroke-width="0.6" />
<line x1="454.40" y1="176.10" x2="456.80" y2="176.10" stroke="#7d9cc2" stroke-width="0.6" />
<line x1="454.40" y1="198.60" x2="456.80" y2="198.60" stroke="#7d9cc2" stroke-width="0.6" />
<line x1="462.98" y1="173.10" x2="462.98" y2="191.10" stroke="#7d9cc2" stroke-width="0.6" />
<line x1="461.78" y1="173.10" x2="464.18" y2="173.10" stroke="#7d9cc2" stroke-width="0.6" />
<line x1="461.78" y1="191.10" x2="464.18" y2="191.10" stroke="#7d9cc2" stroke-width="0.6" />
<line x1="470.35" y1="172.72" x2="470.35" y2="187.72" stroke="#7d9cc2" stroke-width="0.6" />
<line x1="469.15" y1="172.72" x2="471.55" y2="172.72" stroke="#7d9cc2" stroke-width="0.6" />
<line x1="469.15" y1="187.72" x2="471.55" y2="187.72" stroke="#7d9cc2" stroke-width="0.6" />
<circle cx="411.35" cy="216.60" r="1.25" fill="#1d4a80" />
<circle cx="418.73" cy="211.35" r="1.25" fill="#1d4a80" />
<circle cx="426.10" cy="208.35" r="1.25" fill="#1d4a80" />
<circle cx="433.48" cy="206.85" r="1.25" fill="#1d4a80" />
<circle cx="440.85" cy="199.72" r="1.25" fill="#1d4a80" />
<circle cx="448.23" cy="194.85" r="1.25" fill="#1d4a80" />
<circle cx="455.60" cy="187.35" r="1.25" fill="#1d4a80" />
<circle cx="462.98" cy="182.10" r="1.25" fill="#1d4a80" />
<circle cx="470.35" cy="180.22" r="1.25" fill="#1d4a80" />
<text x="442.90" y="252.00" font-size="7.0" fill="#231f20" text-anchor="middle" textLength="14.7" lengthAdjust="spacingAndGlyphs" stroke="#231f20" stroke-width="0.12" >Days</text>
<text x="403.10" y="263.20" font-size="6.3" fill="#d23a6e" text-anchor="end" stroke="#d23a6e" stroke-width="0.12" >ASO</text>
<text x="403.10" y="270.60" font-size="6.3" fill="#9c7a36" text-anchor="end" stroke="#9c7a36" stroke-width="0.12" >BTZ</text>
<line x1="409.85" y1="261.00" x2="412.85" y2="261.00" stroke="#d23a6e" stroke-width="0.6" />
<line x1="411.35" y1="259.50" x2="411.35" y2="262.50" stroke="#d23a6e" stroke-width="0.6" />
<line x1="424.60" y1="261.00" x2="427.60" y2="261.00" stroke="#d23a6e" stroke-width="0.6" />
<line x1="426.10" y1="259.50" x2="426.10" y2="262.50" stroke="#d23a6e" stroke-width="0.6" />
<line x1="439.35" y1="261.00" x2="442.35" y2="261.00" stroke="#d23a6e" stroke-width="0.6" />
<line x1="440.85" y1="259.50" x2="440.85" y2="262.50" stroke="#d23a6e" stroke-width="0.6" />
<line x1="409.85" y1="268.40" x2="412.85" y2="268.40" stroke="#9c7a36" stroke-width="0.6" />
<line x1="411.35" y1="266.90" x2="411.35" y2="269.90" stroke="#9c7a36" stroke-width="0.6" />
<line x1="417.23" y1="268.40" x2="420.23" y2="268.40" stroke="#9c7a36" stroke-width="0.6" />
<line x1="418.73" y1="266.90" x2="418.73" y2="269.90" stroke="#9c7a36" stroke-width="0.6" />
<line x1="424.60" y1="268.40" x2="427.60" y2="268.40" stroke="#9c7a36" stroke-width="0.6" />
<line x1="426.10" y1="266.90" x2="426.10" y2="269.90" stroke="#9c7a36" stroke-width="0.6" />
<line x1="431.98" y1="268.40" x2="434.98" y2="268.40" stroke="#9c7a36" stroke-width="0.6" />
<line x1="433.48" y1="266.90" x2="433.48" y2="269.90" stroke="#9c7a36" stroke-width="0.6" />
<line x1="439.35" y1="268.40" x2="442.35" y2="268.40" stroke="#9c7a36" stroke-width="0.6" />
<line x1="440.85" y1="266.90" x2="440.85" y2="269.90" stroke="#9c7a36" stroke-width="0.6" />
<line x1="446.73" y1="268.40" x2="449.73" y2="268.40" stroke="#9c7a36" stroke-width="0.6" />
<line x1="448.23" y1="266.90" x2="448.23" y2="269.90" stroke="#9c7a36" stroke-width="0.6" />
<line x1="454.10" y1="268.40" x2="457.10" y2="268.40" stroke="#9c7a36" stroke-width="0.6" />
<line x1="455.60" y1="266.90" x2="455.60" y2="269.90" stroke="#9c7a36" stroke-width="0.6" />
<line x1="461.48" y1="268.40" x2="464.48" y2="268.40" stroke="#9c7a36" stroke-width="0.6" />
<line x1="462.98" y1="266.90" x2="462.98" y2="269.90" stroke="#9c7a36" stroke-width="0.6" />
<line x1="468.85" y1="268.40" x2="471.85" y2="268.40" stroke="#9c7a36" stroke-width="0.6" />
<line x1="470.35" y1="266.90" x2="470.35" y2="269.90" stroke="#9c7a36" stroke-width="0.6" />
<line x1="352.10" y1="281.30" x2="360.70" y2="281.30" stroke="#1d4a80" stroke-width="0.8" />
<circle cx="356.40" cy="281.30" r="1.15" fill="#1d4a80" />
<text x="364.40" y="283.00" font-size="6.3" fill="#231f20" textLength="48.5" lengthAdjust="spacingAndGlyphs" stroke="#231f20" stroke-width="0.12" >Kms27 scramble</text>
<line x1="429.50" y1="281.30" x2="438.10" y2="281.30" stroke="#8a80c8" stroke-width="0.8" />
<rect x="432.75" y="280.25" width="2.10" height="2.10" fill="#8a80c8" />
<text x="441.50" y="283.00" font-size="6.3" fill="#231f20" textLength="62.3" lengthAdjust="spacingAndGlyphs" stroke="#231f20" stroke-width="0.12" >Kms27 scramble BTZ</text>
<line x1="352.10" y1="290.80" x2="360.70" y2="290.80" stroke="#e0287a" stroke-width="0.8" />
<path d="M356.40 289.48 L357.60 291.64 L355.20 291.64 Z" fill="#e0287a"/>
<text x="364.40" y="292.70" font-size="6.3" fill="#231f20" textLength="58.9" lengthAdjust="spacingAndGlyphs" stroke="#231f20" stroke-width="0.12" >Kms27 ASO e-NRF1</text>
<line x1="429.50" y1="290.80" x2="438.10" y2="290.80" stroke="#bcd58a" stroke-width="0.8" />
<path d="M433.80 289.48 L435.00 291.64 L432.60 291.64 Z" fill="#bcd58a"/>
<text x="441.50" y="292.70" font-size="6.3" fill="#231f20" textLength="73.4" lengthAdjust="spacingAndGlyphs" stroke="#231f20" stroke-width="0.12" >Kms27 ASO e-NRF1 BTZ</text>
<text x="8.00" y="310.00" font-size="11.6" fill="#000" font-weight="bold" stroke="#000" stroke-width="0.3" >F</text>
<defs>
<filter id="rough" x="-30%" y="-30%" width="160%" height="160%">
<feTurbulence type="fractalNoise" baseFrequency="0.32" numOctaves="2" seed="3" result="n"/>
<feDisplacementMap in="SourceGraphic" in2="n" scale="2.6" xChannelSelector="R" yChannelSelector="G" result="d"/>
<feTurbulence type="fractalNoise" baseFrequency="0.3" numOctaves="2" seed="11" result="n2"/>
<feColorMatrix in="n2" type="matrix" values="0 0 0 0 0.25  0 0 0 0 0.1  0 0 0 0 0.06  1.6 0 0 0 -0.75" result="dk"/>
<feComposite in="dk" in2="d" operator="in" result="dkin"/>
<feTurbulence type="fractalNoise" baseFrequency="0.26" numOctaves="2" seed="29" result="n3"/>
<feColorMatrix in="n3" type="matrix" values="0 0 0 0 0.97  0 0 0 0 0.88  0 0 0 0 0.82  0 1.5 0 0 -0.75" result="lt"/>
<feComposite in="lt" in2="d" operator="in" result="ltin"/>
<feMerge result="m"><feMergeNode in="d"/><feMergeNode in="dkin"/><feMergeNode in="ltin"/></feMerge>
<feGaussianBlur in="m" stdDeviation="0.3"/>
</filter>
<filter id="soft"><feGaussianBlur stdDeviation="0.3"/></filter>
<clipPath id="photo"><rect x="60" y="313.1" width="109.3" height="114.2"/></clipPath>
</defs>
<g clip-path="url(#photo)">
<rect x="60.00" y="313.10" width="109.30" height="114.20" fill="#e8e0d6" />
<rect x="77.50" y="316.50" width="91.80" height="110.80" fill="#e6ddd2" />
<rect x="60.00" y="313.10" width="109.30" height="3.60" fill="#cfd8d4" />
<line x1="60.00" y1="316.60" x2="169.30" y2="316.60" stroke="#a8b6b0" stroke-width="0.6" />
<rect x="60.00" y="313.10" width="12.00" height="114.20" fill="#a2b6aa" />
<rect x="60.00" y="313.10" width="1.20" height="114.20" fill="#3e4f47" />
<line x1="61.00" y1="318.00" x2="71.50" y2="318.00" stroke="#6f857a" stroke-width="0.35" />
<line x1="61.00" y1="321.60" x2="71.50" y2="321.60" stroke="#6f857a" stroke-width="0.35" />
<line x1="61.00" y1="325.20" x2="71.50" y2="325.20" stroke="#6f857a" stroke-width="0.35" />
<line x1="61.00" y1="328.80" x2="71.50" y2="328.80" stroke="#6f857a" stroke-width="0.35" />
<line x1="61.00" y1="332.40" x2="71.50" y2="332.40" stroke="#6f857a" stroke-width="0.35" />
<line x1="61.00" y1="336.00" x2="71.50" y2="336.00" stroke="#6f857a" stroke-width="0.35" />
<line x1="61.00" y1="339.60" x2="71.50" y2="339.60" stroke="#6f857a" stroke-width="0.35" />
<line x1="61.00" y1="343.20" x2="71.50" y2="343.20" stroke="#6f857a" stroke-width="0.35" />
<line x1="61.00" y1="346.80" x2="71.50" y2="346.80" stroke="#6f857a" stroke-width="0.35" />
<line x1="61.00" y1="350.40" x2="71.50" y2="350.40" stroke="#6f857a" stroke-width="0.35" />
<line x1="61.00" y1="354.00" x2="71.50" y2="354.00" stroke="#6f857a" stroke-width="0.35" />
<line x1="61.00" y1="357.60" x2="71.50" y2="357.60" stroke="#6f857a" stroke-width="0.35" />
<line x1="61.00" y1="361.20" x2="71.50" y2="361.20" stroke="#6f857a" stroke-width="0.35" />
<line x1="61.00" y1="364.80" x2="71.50" y2="364.80" stroke="#6f857a" stroke-width="0.35" />
<line x1="61.00" y1="368.40" x2="71.50" y2="368.40" stroke="#6f857a" stroke-width="0.35" />
<line x1="61.00" y1="372.00" x2="71.50" y2="372.00" stroke="#6f857a" stroke-width="0.35" />
<line x1="61.00" y1="375.60" x2="71.50" y2="375.60" stroke="#6f857a" stroke-width="0.35" />
<line x1="61.00" y1="379.20" x2="71.50" y2="379.20" stroke="#6f857a" stroke-width="0.35" />
<line x1="61.00" y1="382.80" x2="71.50" y2="382.80" stroke="#6f857a" stroke-width="0.35" />
<line x1="61.00" y1="386.40" x2="71.50" y2="386.40" stroke="#6f857a" stroke-width="0.35" />
<line x1="61.00" y1="390.00" x2="71.50" y2="390.00" stroke="#6f857a" stroke-width="0.35" />
<line x1="61.00" y1="393.60" x2="71.50" y2="393.60" stroke="#6f857a" stroke-width="0.35" />
<line x1="61.00" y1="397.20" x2="71.50" y2="397.20" stroke="#6f857a" stroke-width="0.35" />
<line x1="61.00" y1="400.80" x2="71.50" y2="400.80" stroke="#6f857a" stroke-width="0.35" />
<line x1="61.00" y1="404.40" x2="71.50" y2="404.40" stroke="#6f857a" stroke-width="0.35" />
<line x1="61.00" y1="408.00" x2="71.50" y2="408.00" stroke="#6f857a" stroke-width="0.35" />
<line x1="61.00" y1="411.60" x2="71.50" y2="411.60" stroke="#6f857a" stroke-width="0.35" />
<line x1="61.00" y1="415.20" x2="71.50" y2="415.20" stroke="#6f857a" stroke-width="0.35" />
<line x1="61.00" y1="418.80" x2="71.50" y2="418.80" stroke="#6f857a" stroke-width="0.35" />
<line x1="61.00" y1="422.40" x2="71.50" y2="422.40" stroke="#6f857a" stroke-width="0.35" />
<line x1="61.00" y1="426.00" x2="71.50" y2="426.00" stroke="#6f857a" stroke-width="0.35" />
<rect x="63.20" y="318.90" width="3.40" height="3.00" fill="#24332b" />
<rect x="63.20" y="332.50" width="3.40" height="3.00" fill="#24332b" />
<rect x="63.20" y="346.10" width="3.40" height="3.00" fill="#24332b" />
<rect x="63.20" y="359.70" width="3.40" height="3.00" fill="#24332b" />
<rect x="63.20" y="373.30" width="3.40" height="3.00" fill="#24332b" />
<rect x="63.20" y="386.90" width="3.40" height="3.00" fill="#24332b" />
<rect x="63.20" y="400.50" width="3.40" height="3.00" fill="#24332b" />
<rect x="63.20" y="414.10" width="3.40" height="3.00" fill="#24332b" />
<rect x="72.00" y="313.10" width="5.50" height="114.20" fill="#dde4e1" />
<line x1="72.10" y1="316.60" x2="72.10" y2="427.30" stroke="#7d9188" stroke-width="0.6" />
<line x1="73.80" y1="316.60" x2="73.80" y2="427.30" stroke="#eef2f0" stroke-width="0.6" />
<line x1="78.80" y1="316.60" x2="78.80" y2="427.30" stroke="#c6cfcb" stroke-width="0.6" />
<circle cx="97.5" cy="328.5" r="13.0" fill="#eeeae4" stroke="#cdc4b8" stroke-width="0.8"/>
<circle cx="125.5" cy="328.5" r="13.0" fill="#eeeae4" stroke="#cdc4b8" stroke-width="0.8"/>
<circle cx="153.5" cy="328.5" r="13.0" fill="#eeeae4" stroke="#cdc4b8" stroke-width="0.8"/>
<circle cx="97.5" cy="355.3" r="13.0" fill="#eeeae4" stroke="#cdc4b8" stroke-width="0.8"/>
<circle cx="125.5" cy="355.3" r="13.0" fill="#eeeae4" stroke="#cdc4b8" stroke-width="0.8"/>
<circle cx="153.5" cy="355.3" r="13.0" fill="#eeeae4" stroke="#cdc4b8" stroke-width="0.8"/>
<circle cx="97.5" cy="382.6" r="13.0" fill="#eeeae4" stroke="#cdc4b8" stroke-width="0.8"/>
<circle cx="125.5" cy="382.6" r="13.0" fill="#eeeae4" stroke="#cdc4b8" stroke-width="0.8"/>
<circle cx="153.5" cy="382.6" r="13.0" fill="#eeeae4" stroke="#cdc4b8" stroke-width="0.8"/>
<circle cx="97.5" cy="409.8" r="13.0" fill="#eeeae4" stroke="#cdc4b8" stroke-width="0.8"/>
<circle cx="125.5" cy="409.8" r="13.0" fill="#eeeae4" stroke="#cdc4b8" stroke-width="0.8"/>
<circle cx="153.5" cy="409.8" r="13.0" fill="#eeeae4" stroke="#cdc4b8" stroke-width="0.8"/>
<g filter="url(#rough)">
<ellipse cx="96.8" cy="328.8" rx="11" ry="9.2" fill="#b0604f"/>
<ellipse cx="97.90" cy="332.48" rx="8.80" ry="4.14" fill="#86402f" opacity="0.5"/>
<ellipse cx="94.60" cy="326.96" rx="6.05" ry="4.60" fill="#dc9486" opacity="0.75"/>
<ellipse cx="100.65" cy="328.34" rx="3.30" ry="2.76" fill="#dc9486" opacity="0.5"/>
<ellipse cx="122.7" cy="327.3" rx="9.5" ry="11.5" fill="#ae8a70"/>
<ellipse cx="123.65" cy="331.90" rx="7.60" ry="5.17" fill="#86603f" opacity="0.5"/>
<ellipse cx="120.80" cy="325.00" rx="5.23" ry="5.75" fill="#dcc6ae" opacity="0.75"/>
<ellipse cx="126.03" cy="326.73" rx="2.85" ry="3.45" fill="#dcc6ae" opacity="0.5"/>
<ellipse cx="150.8" cy="327.4" rx="10" ry="11.2" fill="#985a48"/>
<ellipse cx="151.80" cy="331.88" rx="8.00" ry="5.04" fill="#6e3e2e" opacity="0.5"/>
<ellipse cx="148.80" cy="325.16" rx="5.50" ry="5.60" fill="#c08a78" opacity="0.75"/>
<ellipse cx="154.30" cy="326.84" rx="3.00" ry="3.36" fill="#c08a78" opacity="0.5"/>
<ellipse cx="98.1" cy="356.4" rx="12" ry="8.2" fill="#b8a27a"/>
<ellipse cx="99.30" cy="359.68" rx="9.60" ry="3.69" fill="#92764e" opacity="0.5"/>
<ellipse cx="95.70" cy="354.76" rx="6.60" ry="4.10" fill="#dcd4b2" opacity="0.75"/>
<ellipse cx="102.30" cy="355.99" rx="3.60" ry="2.46" fill="#dcd4b2" opacity="0.5"/>
<ellipse cx="124.0" cy="355.5" rx="7.5" ry="6.8" fill="#a89262"/>
<ellipse cx="124.75" cy="358.22" rx="6.00" ry="3.06" fill="#80683e" opacity="0.5"/>
<ellipse cx="122.50" cy="354.14" rx="4.12" ry="3.40" fill="#cfc496" opacity="0.75"/>
<ellipse cx="126.62" cy="355.16" rx="2.25" ry="2.04" fill="#cfc496" opacity="0.5"/>
<ellipse cx="154.4" cy="352.8" rx="10.3" ry="7.4" fill="#a08458"/>
<ellipse cx="155.43" cy="355.76" rx="8.24" ry="3.33" fill="#7a5e38" opacity="0.5"/>
<ellipse cx="152.34" cy="351.32" rx="5.67" ry="3.70" fill="#cfc6a0" opacity="0.75"/>
<ellipse cx="158.00" cy="352.43" rx="3.09" ry="2.22" fill="#cfc6a0" opacity="0.5"/>
<ellipse cx="98.6" cy="382.8" rx="7.2" ry="8.4" fill="#b66e5c"/>
<ellipse cx="99.32" cy="386.16" rx="5.76" ry="3.78" fill="#8a4a3a" opacity="0.5"/>
<ellipse cx="97.16" cy="381.12" rx="3.96" ry="4.20" fill="#dcaa98" opacity="0.75"/>
<ellipse cx="101.12" cy="382.38" rx="2.16" ry="2.52" fill="#dcaa98" opacity="0.5"/>
<ellipse cx="127.4" cy="381.9" rx="6.8" ry="6.4" fill="#b27452"/>
<ellipse cx="128.08" cy="384.46" rx="5.44" ry="2.88" fill="#865236" opacity="0.5"/>
<ellipse cx="126.04" cy="380.62" rx="3.74" ry="3.20" fill="#d8a282" opacity="0.75"/>
<ellipse cx="129.78" cy="381.58" rx="2.04" ry="1.92" fill="#d8a282" opacity="0.5"/>
<ellipse cx="151.8" cy="381.8" rx="6.2" ry="7.0" fill="#966c40"/>
<ellipse cx="152.42" cy="384.60" rx="4.96" ry="3.15" fill="#6c4a28" opacity="0.5"/>
<ellipse cx="150.56" cy="380.40" rx="3.41" ry="3.50" fill="#bf9a6c" opacity="0.75"/>
<ellipse cx="153.97" cy="381.45" rx="1.86" ry="2.10" fill="#bf9a6c" opacity="0.5"/>
<ellipse cx="97.2" cy="408.8" rx="4.6" ry="5.4" fill="#c27a5a"/>
<ellipse cx="97.66" cy="410.96" rx="3.68" ry="2.43" fill="#9a583c" opacity="0.5"/>
<ellipse cx="96.28" cy="407.72" rx="2.53" ry="2.70" fill="#e2aa8c" opacity="0.75"/>
<ellipse cx="98.81" cy="408.53" rx="1.38" ry="1.62" fill="#e2aa8c" opacity="0.5"/>
<ellipse cx="126.8" cy="408.5" rx="5.0" ry="4.2" fill="#bc6e5c"/>
<ellipse cx="127.30" cy="410.18" rx="4.00" ry="1.89" fill="#905040" opacity="0.5"/>
<ellipse cx="125.80" cy="407.66" rx="2.75" ry="2.10" fill="#e0a294" opacity="0.75"/>
<ellipse cx="128.55" cy="408.29" rx="1.50" ry="1.26" fill="#e0a294" opacity="0.5"/>
<ellipse cx="155.8" cy="408.3" rx="4.0" ry="3.6" fill="#b06646"/>
<ellipse cx="156.20" cy="409.74" rx="3.20" ry="1.62" fill="#884a30" opacity="0.5"/>
<ellipse cx="155.00" cy="407.58" rx="2.20" ry="1.80" fill="#d49878" opacity="0.75"/>
<ellipse cx="157.20" cy="408.12" rx="1.20" ry="1.08" fill="#d49878" opacity="0.5"/>
</g>
</g>
<rect x="60" y="313.1" width="109.3" height="114.2" fill="none" stroke="#56635d" stroke-width="0.9"/>
<text x="58.00" y="332.30" font-size="6.3" fill="#231f20" text-anchor="end" textLength="25.8" lengthAdjust="spacingAndGlyphs" stroke="#231f20" stroke-width="0.12" >scramble</text>
<text x="58.00" y="354.30" font-size="6.3" fill="#231f20" text-anchor="end" textLength="31.7" lengthAdjust="spacingAndGlyphs" stroke="#231f20" stroke-width="0.12" >scramble +</text>
<text x="42.35" y="362.50" font-size="6.3" fill="#231f20" text-anchor="middle" textLength="11.3" lengthAdjust="spacingAndGlyphs" stroke="#231f20" stroke-width="0.12" >BTZ</text>
<text x="58.60" y="385.50" font-size="6.3" fill="#231f20" text-anchor="end" textLength="35.5" lengthAdjust="spacingAndGlyphs" stroke="#231f20" stroke-width="0.12" >ASO-eNRF1</text>
<text x="58.00" y="412.20" font-size="6.3" fill="#231f20" text-anchor="end" textLength="41.7" lengthAdjust="spacingAndGlyphs" stroke="#231f20" stroke-width="0.12" >ASO-eNRF1 +</text>
<text x="42.35" y="419.90" font-size="6.3" fill="#231f20" text-anchor="middle" textLength="11.3" lengthAdjust="spacingAndGlyphs" stroke="#231f20" stroke-width="0.12" >BTZ</text>
<line x1="208.80" y1="314.60" x2="208.80" y2="407.20" stroke="#231f20" stroke-width="1.0" />
<line x1="208.30" y1="406.70" x2="301.50" y2="406.70" stroke="#231f20" stroke-width="1.0" />
<line x1="206.00" y1="406.70" x2="208.80" y2="406.70" stroke="#231f20" stroke-width="0.9" />
<text x="202.90" y="408.90" font-size="6.2" fill="#231f20" text-anchor="end" textLength="8.4" lengthAdjust="spacingAndGlyphs" stroke="#231f20" stroke-width="0.12" >0.0</text>
<line x1="206.00" y1="388.90" x2="208.80" y2="388.90" stroke="#231f20" stroke-width="0.9" />
<text x="202.90" y="391.10" font-size="6.2" fill="#231f20" text-anchor="end" textLength="8.4" lengthAdjust="spacingAndGlyphs" stroke="#231f20" stroke-width="0.12" >0.2</text>
<line x1="206.00" y1="371.10" x2="208.80" y2="371.10" stroke="#231f20" stroke-width="0.9" />
<text x="202.90" y="373.30" font-size="6.2" fill="#231f20" text-anchor="end" textLength="8.4" lengthAdjust="spacingAndGlyphs" stroke="#231f20" stroke-width="0.12" >0.4</text>
<line x1="206.00" y1="353.30" x2="208.80" y2="353.30" stroke="#231f20" stroke-width="0.9" />
<text x="202.90" y="355.50" font-size="6.2" fill="#231f20" text-anchor="end" textLength="8.4" lengthAdjust="spacingAndGlyphs" stroke="#231f20" stroke-width="0.12" >0.6</text>
<line x1="206.00" y1="335.50" x2="208.80" y2="335.50" stroke="#231f20" stroke-width="0.9" />
<text x="202.90" y="337.70" font-size="6.2" fill="#231f20" text-anchor="end" textLength="8.4" lengthAdjust="spacingAndGlyphs" stroke="#231f20" stroke-width="0.12" >0.8</text>
<line x1="206.00" y1="317.70" x2="208.80" y2="317.70" stroke="#231f20" stroke-width="0.9" />
<text x="202.90" y="319.90" font-size="6.2" fill="#231f20" text-anchor="end" textLength="8.4" lengthAdjust="spacingAndGlyphs" stroke="#231f20" stroke-width="0.12" >1.0</text>
<line x1="222.60" y1="406.70" x2="222.60" y2="409.50" stroke="#231f20" stroke-width="0.9" />
<line x1="243.20" y1="406.70" x2="243.20" y2="409.50" stroke="#231f20" stroke-width="0.9" />
<line x1="263.70" y1="406.70" x2="263.70" y2="409.50" stroke="#231f20" stroke-width="0.9" />
<line x1="284.40" y1="406.70" x2="284.40" y2="409.50" stroke="#231f20" stroke-width="0.9" />
<text x="0" y="0" font-size="6.5" text-anchor="middle" fill="#231f20" textLength="60.3" lengthAdjust="spacingAndGlyphs" stroke="#231f20" stroke-width="0.12" transform="translate(187.90 360.70) rotate(-90)">Tumor weight (mg)</text>
<text x="226.50" y="317.60" font-size="6.4" fill="#231f20" font-style="italic" textLength="23.5" lengthAdjust="spacingAndGlyphs" stroke="#231f20" stroke-width="0.12" >P &lt; .001</text>
<circle cx="217.80" cy="335.80" r="1.30" fill="#1d4a80" />
<circle cx="217.80" cy="339.40" r="1.30" fill="#1d4a80" />
<circle cx="217.80" cy="346.50" r="1.30" fill="#1d4a80" />
<circle cx="228.00" cy="338.90" r="1.30" fill="#1d4a80" />
<circle cx="228.00" cy="342.40" r="1.30" fill="#1d4a80" />
<line x1="217.80" y1="339.80" x2="228.00" y2="339.80" stroke="#1d4a80" stroke-width="0.9" />
<rect x="236.65" y="368.45" width="2.50" height="2.50" fill="#8a80c8" />
<rect x="236.65" y="374.35" width="2.50" height="2.50" fill="#8a80c8" />
<rect x="242.15" y="370.75" width="2.50" height="2.50" fill="#8a80c8" />
<rect x="247.35" y="366.05" width="2.50" height="2.50" fill="#8a80c8" />
<rect x="247.35" y="372.45" width="2.50" height="2.50" fill="#8a80c8" />
<line x1="237.90" y1="372.00" x2="248.60" y2="372.00" stroke="#8a80c8" stroke-width="0.9" />
<path d="M263.50 381.10 L264.95 383.71 L262.05 383.71 Z" fill="#e0287a"/>
<path d="M258.80 386.40 L260.25 389.01 L257.35 389.01 Z" fill="#e0287a"/>
<path d="M258.80 393.00 L260.25 395.62 L257.35 395.62 Z" fill="#e0287a"/>
<path d="M269.20 386.40 L270.65 389.01 L267.75 389.01 Z" fill="#e0287a"/>
<path d="M269.20 389.40 L270.65 392.01 L267.75 392.01 Z" fill="#e0287a"/>
<line x1="258.80" y1="388.60" x2="269.20" y2="388.60" stroke="#e0287a" stroke-width="0.9" />
<path d="M279.20 400.51 L280.55 402.94 L277.85 402.94 Z" fill="#8fbf3c"/>
<path d="M282.40 399.71 L283.75 402.14 L281.05 402.14 Z" fill="#8fbf3c"/>
<path d="M285.00 400.12 L286.35 402.55 L283.65 402.55 Z" fill="#8fbf3c"/>
<path d="M287.60 399.71 L288.95 402.14 L286.25 402.14 Z" fill="#8fbf3c"/>
<path d="M290.20 400.71 L291.55 403.14 L288.85 403.14 Z" fill="#8fbf3c"/>
<line x1="279.00" y1="401.80" x2="290.50" y2="401.80" stroke="#8fbf3c" stroke-width="0.7" />
<path d="M221.5 331.8 V330.7 H243.8 V331.8" fill="none" stroke="#444" stroke-width="0.75" />
<path d="M243.4 360.2 V359.0 H265.9 V360.2" fill="none" stroke="#444" stroke-width="0.75" />
<path d="M264.5 377.8 V376.6 H286.5 V377.8" fill="none" stroke="#444" stroke-width="0.75" />
<circle cx="230.10" cy="328.20" r="0.85" fill="#2a2a2a" />
<circle cx="232.80" cy="328.20" r="0.85" fill="#2a2a2a" />
<circle cx="235.50" cy="328.20" r="0.85" fill="#2a2a2a" />
<circle cx="251.90" cy="356.60" r="0.85" fill="#2a2a2a" />
<circle cx="254.60" cy="356.60" r="0.85" fill="#2a2a2a" />
<circle cx="257.30" cy="356.60" r="0.85" fill="#2a2a2a" />
<circle cx="272.80" cy="374.20" r="0.85" fill="#2a2a2a" />
<circle cx="275.50" cy="374.20" r="0.85" fill="#2a2a2a" />
<circle cx="278.20" cy="374.20" r="0.85" fill="#2a2a2a" />
<text x="225.90" y="417.00" font-size="6.1" fill="#231f20" stroke="#231f20" stroke-width="0.12" text-anchor="end" textLength="41.7" lengthAdjust="spacingAndGlyphs" transform="rotate(-45 225.90 417.00)">ASO scramble</text>
<text x="246.50" y="417.00" font-size="6.1" fill="#231f20" stroke="#231f20" stroke-width="0.12" text-anchor="end" textLength="54.0" lengthAdjust="spacingAndGlyphs" transform="rotate(-45 246.50 417.00)">ASO scramble BTZ</text>
<text x="267.00" y="417.00" font-size="6.1" fill="#231f20" stroke="#231f20" stroke-width="0.12" text-anchor="end" textLength="35.5" lengthAdjust="spacingAndGlyphs" transform="rotate(-45 267.00 417.00)">ASO-eNRF1</text>
<text x="287.70" y="417.00" font-size="6.1" fill="#231f20" stroke="#231f20" stroke-width="0.12" text-anchor="end" textLength="50.0" lengthAdjust="spacingAndGlyphs" transform="rotate(-45 287.70 417.00)">ASO-eNRF1 BTZ</text>
<text x="311.80" y="309.80" font-size="11.6" fill="#000" font-weight="bold" stroke="#000" stroke-width="0.3" >G</text>
<line x1="348.50" y1="326.00" x2="348.50" y2="406.90" stroke="#231f20" stroke-width="1.0" />
<line x1="348.00" y1="406.40" x2="467.30" y2="406.40" stroke="#231f20" stroke-width="1.0" />
<line x1="347.00" y1="406.40" x2="348.50" y2="406.40" stroke="#231f20" stroke-width="0.55" />
<line x1="347.00" y1="403.59" x2="348.50" y2="403.59" stroke="#231f20" stroke-width="0.55" />
<line x1="347.00" y1="400.78" x2="348.50" y2="400.78" stroke="#231f20" stroke-width="0.55" />
<line x1="347.00" y1="397.96" x2="348.50" y2="397.96" stroke="#231f20" stroke-width="0.55" />
<line x1="347.00" y1="395.15" x2="348.50" y2="395.15" stroke="#231f20" stroke-width="0.55" />
<line x1="347.00" y1="392.34" x2="348.50" y2="392.34" stroke="#231f20" stroke-width="0.55" />
<line x1="347.00" y1="389.53" x2="348.50" y2="389.53" stroke="#231f20" stroke-width="0.55" />
<line x1="347.00" y1="386.72" x2="348.50" y2="386.72" stroke="#231f20" stroke-width="0.55" />
<line x1="347.00" y1="383.90" x2="348.50" y2="383.90" stroke="#231f20" stroke-width="0.55" />
<line x1="347.00" y1="381.09" x2="348.50" y2="381.09" stroke="#231f20" stroke-width="0.55" />
<line x1="347.00" y1="378.28" x2="348.50" y2="378.28" stroke="#231f20" stroke-width="0.55" />
<line x1="347.00" y1="375.47" x2="348.50" y2="375.47" stroke="#231f20" stroke-width="0.55" />
<line x1="347.00" y1="372.66" x2="348.50" y2="372.66" stroke="#231f20" stroke-width="0.55" />
<line x1="347.00" y1="369.84" x2="348.50" y2="369.84" stroke="#231f20" stroke-width="0.55" />
<line x1="347.00" y1="367.03" x2="348.50" y2="367.03" stroke="#231f20" stroke-width="0.55" />
<line x1="347.00" y1="364.22" x2="348.50" y2="364.22" stroke="#231f20" stroke-width="0.55" />
<line x1="347.00" y1="361.41" x2="348.50" y2="361.41" stroke="#231f20" stroke-width="0.55" />
<line x1="347.00" y1="358.60" x2="348.50" y2="358.60" stroke="#231f20" stroke-width="0.55" />
<line x1="347.00" y1="355.78" x2="348.50" y2="355.78" stroke="#231f20" stroke-width="0.55" />
<line x1="347.00" y1="352.97" x2="348.50" y2="352.97" stroke="#231f20" stroke-width="0.55" />
<line x1="347.00" y1="350.16" x2="348.50" y2="350.16" stroke="#231f20" stroke-width="0.55" />
<line x1="347.00" y1="347.35" x2="348.50" y2="347.35" stroke="#231f20" stroke-width="0.55" />
<line x1="347.00" y1="344.54" x2="348.50" y2="344.54" stroke="#231f20" stroke-width="0.55" />
<line x1="347.00" y1="341.72" x2="348.50" y2="341.72" stroke="#231f20" stroke-width="0.55" />
<line x1="347.00" y1="338.91" x2="348.50" y2="338.91" stroke="#231f20" stroke-width="0.55" />
<line x1="347.00" y1="336.10" x2="348.50" y2="336.10" stroke="#231f20" stroke-width="0.55" />
<line x1="347.00" y1="333.29" x2="348.50" y2="333.29" stroke="#231f20" stroke-width="0.55" />
<line x1="347.00" y1="330.48" x2="348.50" y2="330.48" stroke="#231f20" stroke-width="0.55" />
<line x1="347.00" y1="327.66" x2="348.50" y2="327.66" stroke="#231f20" stroke-width="0.55" />
<line x1="348.60" y1="406.40" x2="348.60" y2="407.90" stroke="#231f20" stroke-width="0.55" />
<line x1="352.49" y1="406.40" x2="352.49" y2="407.90" stroke="#231f20" stroke-width="0.55" />
<line x1="356.37" y1="406.40" x2="356.37" y2="407.90" stroke="#231f20" stroke-width="0.55" />
<line x1="360.26" y1="406.40" x2="360.26" y2="407.90" stroke="#231f20" stroke-width="0.55" />
<line x1="364.15" y1="406.40" x2="364.15" y2="407.90" stroke="#231f20" stroke-width="0.55" />
<line x1="368.03" y1="406.40" x2="368.03" y2="407.90" stroke="#231f20" stroke-width="0.55" />
<line x1="371.92" y1="406.40" x2="371.92" y2="407.90" stroke="#231f20" stroke-width="0.55" />
<line x1="375.81" y1="406.40" x2="375.81" y2="407.90" stroke="#231f20" stroke-width="0.55" />
<line x1="379.69" y1="406.40" x2="379.69" y2="407.90" stroke="#231f20" stroke-width="0.55" />
<line x1="383.58" y1="406.40" x2="383.58" y2="407.90" stroke="#231f20" stroke-width="0.55" />
<line x1="387.47" y1="406.40" x2="387.47" y2="407.90" stroke="#231f20" stroke-width="0.55" />
<line x1="391.35" y1="406.40" x2="391.35" y2="407.90" stroke="#231f20" stroke-width="0.55" />
<line x1="395.24" y1="406.40" x2="395.24" y2="407.90" stroke="#231f20" stroke-width="0.55" />
<line x1="399.13" y1="406.40" x2="399.13" y2="407.90" stroke="#231f20" stroke-width="0.55" />
<line x1="403.01" y1="406.40" x2="403.01" y2="407.90" stroke="#231f20" stroke-width="0.55" />
<line x1="406.90" y1="406.40" x2="406.90" y2="407.90" stroke="#231f20" stroke-width="0.55" />
<line x1="410.79" y1="406.40" x2="410.79" y2="407.90" stroke="#231f20" stroke-width="0.55" />
<line x1="414.67" y1="406.40" x2="414.67" y2="407.90" stroke="#231f20" stroke-width="0.55" />
<line x1="418.56" y1="406.40" x2="418.56" y2="407.90" stroke="#231f20" stroke-width="0.55" />
<line x1="422.45" y1="406.40" x2="422.45" y2="407.90" stroke="#231f20" stroke-width="0.55" />
<line x1="426.33" y1="406.40" x2="426.33" y2="407.90" stroke="#231f20" stroke-width="0.55" />
<line x1="430.22" y1="406.40" x2="430.22" y2="407.90" stroke="#231f20" stroke-width="0.55" />
<line x1="434.11" y1="406.40" x2="434.11" y2="407.90" stroke="#231f20" stroke-width="0.55" />
<line x1="437.99" y1="406.40" x2="437.99" y2="407.90" stroke="#231f20" stroke-width="0.55" />
<line x1="441.88" y1="406.40" x2="441.88" y2="407.90" stroke="#231f20" stroke-width="0.55" />
<line x1="445.77" y1="406.40" x2="445.77" y2="407.90" stroke="#231f20" stroke-width="0.55" />
<line x1="449.65" y1="406.40" x2="449.65" y2="407.90" stroke="#231f20" stroke-width="0.55" />
<line x1="453.54" y1="406.40" x2="453.54" y2="407.90" stroke="#231f20" stroke-width="0.55" />
<line x1="457.43" y1="406.40" x2="457.43" y2="407.90" stroke="#231f20" stroke-width="0.55" />
<line x1="461.31" y1="406.40" x2="461.31" y2="407.90" stroke="#231f20" stroke-width="0.55" />
<line x1="465.20" y1="406.40" x2="465.20" y2="407.90" stroke="#231f20" stroke-width="0.55" />
<line x1="348.60" y1="406.40" x2="348.60" y2="409.00" stroke="#231f20" stroke-width="0.9" />
<text x="348.60" y="418.30" font-size="6.7" fill="#231f20" text-anchor="middle" stroke="#231f20" stroke-width="0.12" >0</text>
<line x1="387.47" y1="406.40" x2="387.47" y2="409.00" stroke="#231f20" stroke-width="0.9" />
<text x="387.47" y="418.30" font-size="6.7" fill="#231f20" text-anchor="middle" stroke="#231f20" stroke-width="0.12" >20</text>
<line x1="426.33" y1="406.40" x2="426.33" y2="409.00" stroke="#231f20" stroke-width="0.9" />
<text x="426.33" y="418.30" font-size="6.7" fill="#231f20" text-anchor="middle" stroke="#231f20" stroke-width="0.12" >40</text>
<line x1="465.20" y1="406.40" x2="465.20" y2="409.00" stroke="#231f20" stroke-width="0.9" />
<text x="465.20" y="418.30" font-size="6.7" fill="#231f20" text-anchor="middle" stroke="#231f20" stroke-width="0.12" >60</text>
<line x1="345.40" y1="406.40" x2="348.50" y2="406.40" stroke="#231f20" stroke-width="0.9" />
<text x="341.30" y="408.80" font-size="6.7" fill="#231f20" text-anchor="end" stroke="#231f20" stroke-width="0.12" >0</text>
<line x1="345.40" y1="371.25" x2="348.50" y2="371.25" stroke="#231f20" stroke-width="0.9" />
<text x="341.30" y="373.65" font-size="6.7" fill="#231f20" text-anchor="end" stroke="#231f20" stroke-width="0.12" >50</text>
<line x1="345.40" y1="336.10" x2="348.50" y2="336.10" stroke="#231f20" stroke-width="0.9" />
<text x="341.30" y="338.50" font-size="6.7" fill="#231f20" text-anchor="end" stroke="#231f20" stroke-width="0.12" >100</text>
<text x="408.40" y="430.20" font-size="7.0" fill="#231f20" text-anchor="middle" textLength="14.8" lengthAdjust="spacingAndGlyphs" stroke="#231f20" stroke-width="0.12" >Days</text>
<text x="0" y="0" font-size="6.5" text-anchor="middle" fill="#231f20" textLength="37.0" lengthAdjust="spacingAndGlyphs" stroke="#231f20" stroke-width="0.12" transform="translate(324.70 366.80) rotate(-90)">% of survival</text>
<path d="M348.60 336.10 H445.77 V406.40" fill="none" stroke="#cfcfae" stroke-width="0.9" />
<path d="M348.60 336.10 H406.90 V343.83 H416.62 V351.92 H426.33 V359.30 H436.05 V367.74 H445.77 V374.76" fill="none" stroke="#a3a6d6" stroke-width="0.9" />
<path d="M348.60 336.10 H416.62 V344.89 H426.33 V353.68 H436.05 V363.17 H445.77 V379.69" fill="none" stroke="#dc4a88" stroke-width="0.9" />
<path d="M348.60 336.10 H387.47 V342.43 H397.18 V348.75 H406.90 V355.43 H426.33 V355.43 H436.05 V362.46 H445.77 V378.28" fill="none" stroke="#4b7ba0" stroke-width="0.9" />
<line x1="358.32" y1="336.10" x2="358.32" y2="333.10" stroke="#6a7f95" stroke-width="0.7" />
<line x1="368.03" y1="336.10" x2="368.03" y2="333.10" stroke="#6a7f95" stroke-width="0.7" />
<line x1="377.75" y1="336.10" x2="377.75" y2="333.10" stroke="#6a7f95" stroke-width="0.7" />
<line x1="387.47" y1="336.10" x2="387.47" y2="333.10" stroke="#6a7f95" stroke-width="0.7" />
<line x1="397.18" y1="336.10" x2="397.18" y2="333.10" stroke="#6a7f95" stroke-width="0.7" />
<line x1="406.90" y1="336.10" x2="406.90" y2="333.10" stroke="#6a7f95" stroke-width="0.7" />
<line x1="416.62" y1="336.10" x2="416.62" y2="333.10" stroke="#6a7f95" stroke-width="0.7" />
<line x1="426.33" y1="336.10" x2="426.33" y2="333.10" stroke="#6a7f95" stroke-width="0.7" />
<line x1="436.05" y1="336.10" x2="436.05" y2="333.10" stroke="#6a7f95" stroke-width="0.7" />
<line x1="450.30" y1="337.90" x2="459.80" y2="337.90" stroke="#4b7ba0" stroke-width="0.9" />
<line x1="455.10" y1="337.90" x2="455.10" y2="335.10" stroke="#4b7ba0" stroke-width="0.9" />
<text x="463.10" y="339.90" font-size="6.3" fill="#231f20" textLength="26.6" lengthAdjust="spacingAndGlyphs" stroke="#231f20" stroke-width="0.12" >scramble</text>
<line x1="450.30" y1="348.75" x2="459.80" y2="348.75" stroke="#a3a6d6" stroke-width="0.9" />
<line x1="455.10" y1="348.75" x2="455.10" y2="345.95" stroke="#a3a6d6" stroke-width="0.9" />
<text x="463.10" y="350.75" font-size="6.3" fill="#231f20" textLength="38.9" lengthAdjust="spacingAndGlyphs" stroke="#231f20" stroke-width="0.12" >scramble BTZ</text>
<line x1="450.30" y1="359.60" x2="459.80" y2="359.60" stroke="#dc4a88" stroke-width="0.9" />
<line x1="455.10" y1="359.60" x2="455.10" y2="356.80" stroke="#dc4a88" stroke-width="0.9" />
<text x="463.10" y="361.60" font-size="6.3" fill="#231f20" textLength="35.7" lengthAdjust="spacingAndGlyphs" stroke="#231f20" stroke-width="0.12" >ASO-eNRF1</text>
<line x1="450.30" y1="370.45" x2="459.80" y2="370.45" stroke="#cfcfae" stroke-width="0.9" />
<line x1="455.10" y1="370.45" x2="455.10" y2="367.65" stroke="#cfcfae" stroke-width="0.9" />
<text x="463.10" y="372.45" font-size="6.3" fill="#231f20" textLength="49.7" lengthAdjust="spacingAndGlyphs" stroke="#231f20" stroke-width="0.12" >ASO-eNRF1 BTZ</text>
<rect x="0" y="0" width="520" height="1" fill="#555"/>
<rect x="0" y="0" width="1" height="464" fill="#555"/>
<rect x="518.8" y="0" width="1.2" height="464" fill="#555"/>
<rect x="0" y="462.4" width="520" height="1.6" fill="#555"/>
</svg>
</body></html>
